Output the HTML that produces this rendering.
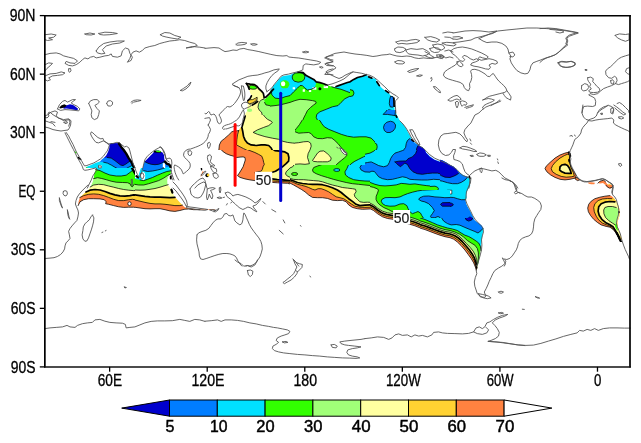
<!DOCTYPE html>
<html><head><meta charset="utf-8"><title>map</title>
<style>
html,body{margin:0;padding:0;background:#fff;overflow:hidden;}
svg{display:block;}
text{font-family:"Liberation Sans",sans-serif;fill:#000;}
.ax{stroke:#000;stroke-width:0.3px;}
.cb{stroke:#000;stroke-width:0.45px;}
.cl{fill:#1a1a1a;stroke:#1a1a1a;stroke-width:0.2px;}
</style></head><body>
<svg width="641" height="443" viewBox="0 0 641 443">
<rect x="0" y="0" width="641" height="443" fill="#fff"/>
<clipPath id="c1"><rect x="350" y="65" width="80" height="55"/></clipPath>
<g clip-path="url(#c1)">
<polygon points="349.4,64.4 430.6,64.4 430.6,120.6 349.4,120.6" fill="#ffffff"/>
<polygon points="349.4,82.5 350.0,81.8 353.7,79.4 357.5,77.5 362.5,76.2 366.2,74.7 368.7,76.9 371.8,78.1 375.6,78.7 376.8,81.8 379.3,85.0 381.8,88.1 384.9,90.6 388.7,93.1 390.6,95.6 393.1,96.8 393.9,101.2 394.3,106.2 394.7,111.2 395.2,114.3 395.6,116.2 397.4,118.7 398.7,121.2 349.4,121.2" fill="#00e1ff"/>
<ellipse cx="350.0" cy="93.1" rx="4.0" ry="3.5" fill="#32ff00" stroke="#000" stroke-width="0.75"/>
<polygon points="390.6,96.2 393.1,96.8 393.7,101.2 393.9,106.2 392.4,107.2 390.2,106.8 389.3,103.7 389.7,99.3" fill="#007dff"/>
<polygon points="383.7,114.3 385.6,112.4 388.7,109.7 392.4,110.6 394.7,111.2 395.2,114.3 393.7,115.5 390.6,114.3 387.4,114.7" fill="#007dff"/>
<polygon points="390.6,96.2 393.1,96.8 393.7,101.2 393.9,106.2 392.4,107.2 390.2,106.8 389.3,103.7 389.7,99.3" fill="none" stroke="#000" stroke-width="0.75" stroke-linejoin="round"/>
<polygon points="383.7,114.3 385.6,112.4 388.7,109.7 392.4,110.6 394.7,111.2 395.2,114.3 393.7,115.5 390.6,114.3 387.4,114.7" fill="none" stroke="#000" stroke-width="0.75" stroke-linejoin="round"/>
<polyline points="350.0,81.8 353.7,79.4 357.5,77.5 362.5,76.2 366.2,74.7" fill="none" stroke="#000000" stroke-width="1.7" stroke-linejoin="round" stroke-linecap="round"/>
<polyline points="368.7,76.9 371.8,78.1" fill="none" stroke="#000000" stroke-width="1.7" stroke-linejoin="round" stroke-linecap="round"/>
<polyline points="376.8,81.8 379.3,85.6" fill="none" stroke="#000000" stroke-width="1.7" stroke-linejoin="round" stroke-linecap="round"/>
<polyline points="385.6,90.6 388.7,92.7" fill="none" stroke="#000000" stroke-width="1.7" stroke-linejoin="round" stroke-linecap="round"/>
<polyline points="393.9,98.1 394.3,106.2" fill="none" stroke="#000000" stroke-width="1.7" stroke-linejoin="round" stroke-linecap="round"/>
<polyline points="395.6,115.5 397.4,118.0" fill="none" stroke="#000000" stroke-width="1.7" stroke-linejoin="round" stroke-linecap="round"/>
</g>
<clipPath id="c2"><rect x="295" y="110" width="80" height="55"/></clipPath>
<g clip-path="url(#c2)">
<polygon points="294.4,109.4 375.6,109.4 375.6,165.6 294.4,165.6" fill="#ffffff"/>
<polygon points="294.4,109.4 376.1,109.4 376.1,166.2 294.4,166.2" fill="#32ff00"/>
<polygon points="325.0,109.4 323.1,110.6 317.5,111.9 315.6,115.0 316.8,118.1 320.0,120.6 321.8,123.7 324.3,126.8 328.7,129.3 334.9,131.8 341.2,134.3 347.4,136.2 353.7,137.2 359.9,136.8 366.1,136.8 371.1,138.1 374.3,141.2 376.1,143.7 376.1,109.4" fill="#00e1ff"/>
<polygon points="376.1,152.4 369.9,154.3 363.6,156.8 358.7,159.3 354.9,161.2 351.2,163.7 349.3,166.2 376.1,166.2" fill="#00e1ff"/>
<polygon points="376.1,161.2 371.1,162.4 367.4,164.3 366.1,166.2 376.1,166.2" fill="#007dff"/>
<polygon points="294.4,131.0 296.2,128.7 299.4,124.7 302.5,119.7 304.7,114.4 306.2,109.4 294.4,109.4" fill="#a0ff78"/>
<polygon points="294.4,131.5 298.7,133.2 303.7,132.8 308.7,132.5 311.2,133.7 313.7,136.8 317.5,138.5 322.5,138.7 327.4,137.7 331.8,138.1 334.9,140.6 338.1,143.7 340.6,146.8 343.0,149.9 346.2,153.1 346.8,155.6 344.3,158.0 341.2,160.5 338.1,163.0 334.9,166.2 294.4,166.2" fill="#a0ff78"/>
<polygon points="294.4,143.1 298.7,142.7 303.7,141.8 308.1,141.5 310.6,143.1 311.2,146.2 310.0,149.9 308.1,153.7 307.5,157.4 308.7,161.2 309.4,163.7 305.0,164.3 300.0,163.9 294.4,164.3" fill="#ffffa0"/>
<polygon points="312.5,160.5 315.0,156.8 317.5,153.1 320.0,151.2 323.7,150.9 326.8,153.1 329.3,155.6 331.2,158.0 330.6,160.5 327.4,161.8 322.5,161.8 317.5,161.8 313.7,161.4" fill="#ffffa0"/>
<polygon points="339.9,148.1 342.4,148.7 344.9,150.6 347.2,153.1 346.8,154.9 344.3,154.3 341.8,151.8" fill="#ffffff"/>
<polygon points="376.1,161.2 371.1,162.4 367.4,164.3 366.1,166.2 376.1,166.2" fill="none" stroke="#000" stroke-width="0.75" stroke-linejoin="round"/>
<polygon points="294.4,143.1 298.7,142.7 303.7,141.8 308.1,141.5 310.6,143.1 311.2,146.2 310.0,149.9 308.1,153.7 307.5,157.4 308.7,161.2 309.4,163.7 305.0,164.3 300.0,163.9 294.4,164.3" fill="none" stroke="#000" stroke-width="0.75" stroke-linejoin="round"/>
<polygon points="312.5,160.5 315.0,156.8 317.5,153.1 320.0,151.2 323.7,150.9 326.8,153.1 329.3,155.6 331.2,158.0 330.6,160.5 327.4,161.8 322.5,161.8 317.5,161.8 313.7,161.4" fill="none" stroke="#000" stroke-width="0.75" stroke-linejoin="round"/>
<polyline points="325.0,109.4 323.1,110.6 317.5,111.9 315.6,115.0 316.8,118.1 320.0,120.6 321.8,123.7 324.3,126.8 328.7,129.3 334.9,131.8 341.2,134.3 347.4,136.2 353.7,137.2 359.9,136.8 366.1,136.8 371.1,138.1 374.3,141.2 376.1,143.7" fill="none" stroke="#000000" stroke-width="0.75" stroke-linejoin="round" stroke-linecap="round"/>
<polyline points="376.1,152.4 369.9,154.3 363.6,156.8 358.7,159.3 354.9,161.2 351.2,163.7 349.3,166.2" fill="none" stroke="#000000" stroke-width="0.75" stroke-linejoin="round" stroke-linecap="round"/>
<polyline points="294.4,131.0 296.2,128.7 299.4,124.7 302.5,119.7 304.7,114.4 306.2,109.4" fill="none" stroke="#000000" stroke-width="0.75" stroke-linejoin="round" stroke-linecap="round"/>
<polyline points="294.4,131.5 298.7,133.2 303.7,132.8 308.7,132.5 311.2,133.7 313.7,136.8 317.5,138.5 322.5,138.7 327.4,137.7 331.8,138.1 334.9,140.6 338.1,143.7 340.6,146.8 343.0,149.9 346.2,153.1 346.8,155.6 344.3,158.0 341.2,160.5 338.1,163.0 334.9,166.2" fill="none" stroke="#000000" stroke-width="0.75" stroke-linejoin="round" stroke-linecap="round"/>
</g>
<clipPath id="c3"><rect x="375" y="110" width="80" height="55"/></clipPath>
<g clip-path="url(#c3)">
<polygon points="374.4,109.4 455.6,109.4 455.6,165.6 374.4,165.6" fill="#ffffff"/>
<polygon points="395.6,109.4 396.2,113.7 398.1,117.5 400.6,121.9 403.7,125.0 406.2,128.7 408.1,132.5 409.9,135.6 411.8,139.3 414.9,143.1 418.7,145.6 422.4,147.4 424.9,149.9 426.8,153.1 429.9,155.6 433.7,158.0 437.4,159.3 441.1,159.9 444.9,161.2 448.6,163.0 452.4,165.5 456.1,166.8 374.4,166.2 374.4,109.4" fill="#00e1ff"/>
<polygon points="383.1,114.4 385.6,111.9 387.5,109.4 395.6,109.4 395.0,115.6 391.2,115.0 387.5,114.4" fill="#007dff"/>
<polygon points="383.5,127.5 384.4,124.4 386.9,122.2 390.6,121.2 393.7,122.2 395.6,125.0 395.2,128.1 393.1,131.0 390.0,132.5 386.9,132.5 384.4,130.6" fill="#007dff"/>
<polygon points="387.5,166.2 389.4,162.4 391.2,158.0 394.3,154.3 398.7,151.8 403.1,150.6 405.6,147.4 406.2,143.7 407.4,140.6 409.9,138.5 411.8,139.3 414.9,143.1 418.7,145.6 422.4,147.4 424.9,149.9 426.8,153.1 429.9,155.6 433.7,158.0 437.4,159.3 441.1,159.9 444.9,161.2 448.6,163.0 452.4,165.5 456.1,166.8 456.1,166.2" fill="#007dff"/>
<polygon points="395.6,166.2 395.0,162.4 397.5,160.5 402.5,159.9 407.4,159.3 411.2,158.0 414.3,155.6 416.2,151.8 416.8,148.1 418.1,145.6 418.7,145.6 422.4,147.4 424.9,149.9 426.8,153.1 429.9,155.6 433.7,158.0 437.4,159.3 441.1,159.9 444.9,161.2 448.6,163.0 452.4,165.5 456.1,166.8 456.1,166.2" fill="#0000cd"/>
<ellipse cx="375.0" cy="146.8" rx="2.2" ry="3.7" fill="#32ff00" stroke="#000" stroke-width="0.75"/>
<polygon points="383.1,114.4 385.6,111.9 387.5,109.4 395.6,109.4 395.0,115.6 391.2,115.0 387.5,114.4" fill="none" stroke="#000" stroke-width="0.75" stroke-linejoin="round"/>
<polygon points="383.5,127.5 384.4,124.4 386.9,122.2 390.6,121.2 393.7,122.2 395.6,125.0 395.2,128.1 393.1,131.0 390.0,132.5 386.9,132.5 384.4,130.6" fill="none" stroke="#000" stroke-width="0.75" stroke-linejoin="round"/>
<polyline points="387.5,166.2 389.4,162.4 391.2,158.0 394.3,154.3 398.7,151.8 403.1,150.6 405.6,147.4 406.2,143.7 407.4,140.6 409.9,138.5" fill="none" stroke="#000000" stroke-width="0.75" stroke-linejoin="round" stroke-linecap="round"/>
<polyline points="395.6,166.2 395.0,162.4 397.5,160.5 402.5,159.9 407.4,159.3 411.2,158.0 414.3,155.6 416.2,151.8 416.8,148.1 418.1,145.6" fill="none" stroke="#000000" stroke-width="0.75" stroke-linejoin="round" stroke-linecap="round"/>
<polyline points="396.0,115.6 396.8,117.2" fill="none" stroke="#000000" stroke-width="1.7" stroke-linejoin="round" stroke-linecap="round"/>
<polyline points="411.6,139.7 413.4,141.2" fill="none" stroke="#000000" stroke-width="1.7" stroke-linejoin="round" stroke-linecap="round"/>
</g>
<clipPath id="c4"><rect x="60" y="175" width="80" height="55"/></clipPath>
<g clip-path="url(#c4)">
<polygon points="59.4,174.4 140.6,174.4 140.6,230.6 59.4,230.6" fill="#ffffff"/>
<polygon points="59.4,174.4 141.1,174.4 141.1,231.2 59.4,231.2" fill="#ff8240"/>
<polygon points="59.4,196.5 80.0,196.5 83.7,195.2 87.5,194.3 92.4,194.3 97.4,194.7 102.4,195.6 107.4,197.5 112.4,199.3 117.4,200.3 122.4,200.8 127.4,200.0 131.1,199.0 134.9,199.7 141.1,201.0 141.1,174.4 59.4,174.4" fill="#ffd232"/>
<polygon points="59.4,192.1 83.1,192.1 86.8,190.6 91.2,189.7 96.2,189.6 101.2,190.2 106.2,192.2 111.2,194.3 116.2,195.6 121.2,196.2 126.1,195.6 129.9,194.7 134.9,194.3 141.1,194.7 141.1,174.4 59.4,174.4" fill="#ffffa0"/>
<polygon points="59.4,186.0 87.7,186.0 92.4,184.0 97.4,183.5 102.4,184.4 107.4,186.9 112.4,189.4 117.4,191.0 122.4,191.8 127.4,191.8 132.4,191.2 141.1,191.0 141.1,174.4 59.4,174.4" fill="#a0ff78"/>
<polygon points="59.4,178.0 92.2,178.0 97.4,177.7 102.4,178.7 107.4,180.6 112.4,182.5 117.4,184.0 122.4,185.6 127.4,186.9 129.9,187.5 132.4,186.9 134.9,186.2 141.1,186.9 141.1,174.4 59.4,174.4" fill="#32ff00"/>
<polygon points="93.7,174.4 92.7,177.5 91.2,180.6 89.3,183.7 86.8,186.9 84.3,189.4 82.5,191.8 80.6,194.3 79.3,197.5 78.5,200.6 78.1,204.3 78.7,206.2 80.0,203.7 82.5,201.2 86.2,199.7 91.2,199.0 97.4,198.7 101.8,198.7 103.9,199.3 105.9,201.2 105.2,203.5 106.8,204.7 111.2,205.3 116.2,206.5 121.2,207.2 126.1,207.0 131.1,206.5 136.1,207.2 141.1,207.8 141.1,231.2 59.4,231.2 59.4,174.4" fill="#ffffff"/>
<ellipse cx="129.3" cy="203.5" rx="1.7" ry="2.0" fill="#ffffff" stroke="#000" stroke-width="0.75"/>
<polyline points="78.7,206.2 80.0,203.7 82.5,201.2 86.2,199.7 91.2,199.0 97.4,198.7 101.8,198.7 103.9,199.3 105.9,201.2 105.2,203.5 106.8,204.7 111.2,205.3 116.2,206.5 121.2,207.2 126.1,207.0 131.1,206.5 136.1,207.2 141.1,207.8" fill="none" stroke="#000000" stroke-width="0.75" stroke-linejoin="round" stroke-linecap="round"/>
<polyline points="80.0,196.5 83.7,195.2 87.5,194.3 92.4,194.3 97.4,194.7 102.4,195.6 107.4,197.5 112.4,199.3 117.4,200.3 122.4,200.8 127.4,200.0 131.1,199.0 134.9,199.7 141.1,201.0" fill="none" stroke="#000000" stroke-width="0.75" stroke-linejoin="round" stroke-linecap="round"/>
<polyline points="83.1,192.1 86.8,190.6 91.2,189.7 96.2,189.6 101.2,190.2 106.2,192.2 111.2,194.3 116.2,195.6 121.2,196.2 126.1,195.6 129.9,194.7 134.9,194.3 141.1,194.7" fill="none" stroke="#000000" stroke-width="1.7" stroke-linejoin="round" stroke-linecap="round"/>
<polyline points="87.7,186.0 92.4,184.0 97.4,183.5 102.4,184.4 107.4,186.9 112.4,189.4 117.4,191.0 122.4,191.8 127.4,191.8 132.4,191.2 141.1,191.0" fill="none" stroke="#000000" stroke-width="0.75" stroke-linejoin="round" stroke-linecap="round"/>
<polyline points="92.2,178.0 97.4,177.7 102.4,178.7 107.4,180.6 112.4,182.5 117.4,184.0 122.4,185.6 127.4,186.9 129.9,187.5 132.4,186.9 134.9,186.2 141.1,186.9" fill="none" stroke="#000000" stroke-width="0.75" stroke-linejoin="round" stroke-linecap="round"/>
</g>
<clipPath id="c5"><rect x="130" y="175" width="80" height="55"/></clipPath>
<g clip-path="url(#c5)">
<polygon points="129.4,174.4 210.6,174.4 210.6,230.6 129.4,230.6" fill="#ffffff"/>
<polygon points="129.4,174.4 211.1,174.4 211.1,231.2 129.4,231.2" fill="#ff8240"/>
<polygon points="129.4,197.5 133.7,199.3 138.7,201.0 143.7,202.2 148.7,203.1 153.7,203.5 158.7,203.5 163.7,204.0 168.7,204.7 173.7,205.2 178.7,205.6 182.4,205.2 183.9,204.7 211.1,204.7 211.1,174.4 129.4,174.4" fill="#ffd232"/>
<polygon points="129.4,194.3 133.7,194.7 138.7,195.6 143.7,196.5 148.7,197.0 153.7,197.0 158.7,197.2 163.7,197.7 168.7,198.1 173.7,197.8 175.2,197.5 211.1,197.5 211.1,174.4 129.4,174.4" fill="#ffffa0"/>
<polygon points="129.4,191.0 133.7,190.6 138.7,190.2 143.7,190.0 148.7,189.4 153.7,188.5 158.7,187.5 163.7,186.5 168.1,185.6 211.1,185.6 211.1,174.4 129.4,174.4" fill="#a0ff78"/>
<polygon points="129.4,187.5 132.5,186.9 137.5,186.0 142.5,185.6 147.5,185.0 152.5,184.0 157.5,182.2 162.4,180.0 166.2,177.5 168.1,175.6 168.7,174.4 129.4,174.4" fill="#32ff00"/>
<polygon points="167.4,174.4 167.4,180.0 168.7,183.7 170.6,187.5 172.4,191.2 174.3,195.0 176.8,198.1 179.9,201.2 183.0,204.3 185.5,206.8 188.7,207.6 192.4,207.9 200.5,207.7 211.1,207.7 211.1,174.4" fill="#ffffff"/>
<polygon points="129.4,204.3 133.7,206.2 138.7,207.7 143.7,208.7 148.7,208.9 153.7,208.7 158.7,208.4 163.7,209.3 168.7,210.6 173.7,211.4 178.7,211.2 182.4,209.9 186.2,209.1 191.2,209.4 196.1,209.1 200.5,208.4 211.1,208.4 211.1,231.2 129.4,231.2" fill="#ffffff"/>
<ellipse cx="130.0" cy="202.7" rx="1.2" ry="2.0" fill="#ffffff" stroke="#000" stroke-width="0.75"/>
<polyline points="129.4,204.3 133.7,206.2 138.7,207.7 143.7,208.7 148.7,208.9 153.7,208.7 158.7,208.4 163.7,209.3 168.7,210.6 173.7,211.4 178.7,211.2 182.4,209.9 186.2,209.1 191.2,209.4 196.1,209.1 200.5,208.4" fill="none" stroke="#000000" stroke-width="0.75" stroke-linejoin="round" stroke-linecap="round"/>
<polyline points="129.4,197.5 133.7,199.3 138.7,201.0 143.7,202.2 148.7,203.1 153.7,203.5 158.7,203.5 163.7,204.0 168.7,204.7 173.7,205.2 178.7,205.6 182.4,205.2 183.9,204.7" fill="none" stroke="#000000" stroke-width="0.75" stroke-linejoin="round" stroke-linecap="round"/>
<polyline points="129.4,194.3 133.7,194.7 138.7,195.6 143.7,196.5 148.7,197.0 153.7,197.0 158.7,197.2 163.7,197.7 168.7,198.1 173.7,197.8 175.2,197.5" fill="none" stroke="#000000" stroke-width="1.7" stroke-linejoin="round" stroke-linecap="round"/>
<polyline points="129.4,191.0 133.7,190.6 138.7,190.2 143.7,190.0 148.7,189.4 153.7,188.5 158.7,187.5 163.7,186.5 168.1,185.6" fill="none" stroke="#000000" stroke-width="0.75" stroke-linejoin="round" stroke-linecap="round"/>
<polyline points="129.4,187.5 132.5,186.9 137.5,186.0 142.5,185.6 147.5,185.0 152.5,184.0 157.5,182.2 162.4,180.0 166.2,177.5 168.1,175.6 168.7,174.4" fill="none" stroke="#000000" stroke-width="0.75" stroke-linejoin="round" stroke-linecap="round"/>
<polyline points="170.2,189.0 171.8,193.1" fill="none" stroke="#000000" stroke-width="2.2" stroke-linejoin="round" stroke-linecap="round"/>
</g>
<clipPath id="c6"><rect x="540" y="140" width="80" height="55"/></clipPath>
<g clip-path="url(#c6)">
<polygon points="568.7,152.2 565.0,153.1 560.0,155.0 555.0,158.1 550.0,162.5 546.2,166.2 545.0,168.7 546.9,171.8 550.6,174.9 555.0,177.4 560.0,179.3 565.0,179.9 570.0,179.3 574.9,178.1 577.4,177.2 579.9,179.9 577.4,180.6 574.9,178.7 576.2,175.6 573.7,171.2 571.2,167.5 570.0,163.7 569.3,160.0 570.0,156.2 570.0,153.1" fill="#ff8240"/>
<polygon points="568.1,154.0 564.3,155.6 560.0,158.1 555.6,161.8 552.5,165.6 551.2,168.7 552.5,171.8 556.2,174.3 561.2,176.4 566.2,177.2 571.2,176.8 574.3,176.2 573.4,172.7 571.2,168.1 570.0,163.7 569.3,159.3 569.7,155.6" fill="#ffd232"/>
<polygon points="560.0,166.8 561.8,165.0 565.0,164.3 567.5,165.6 569.3,168.1 570.6,171.2 571.2,173.4 568.7,173.4 565.0,173.1 561.8,171.8 559.7,170.0" fill="#ffffa0"/>
<polygon points="588.0,182.4 591.2,182.2 594.9,182.7 594.3,184.3 591.2,184.3 588.7,183.7" fill="#ff8240"/>
<polygon points="598.0,183.1 599.9,181.2 603.7,180.2 605.5,181.8 607.4,184.3 609.9,185.6 611.8,187.4 610.5,188.7 608.0,187.2 605.5,184.9 603.0,183.1 599.9,183.4" fill="#ff8240"/>
<polygon points="608.0,183.7 610.5,183.9 610.9,185.2 608.6,184.9" fill="#ffd232"/>
<polygon points="568.7,152.2 565.0,153.1 560.0,155.0 555.0,158.1 550.0,162.5 546.2,166.2 545.0,168.7 546.9,171.8 550.6,174.9 555.0,177.4 560.0,179.3 565.0,179.9 570.0,179.3 574.9,178.1 577.4,177.2 579.9,179.9 577.4,180.6 574.9,178.7 576.2,175.6 573.7,171.2 571.2,167.5 570.0,163.7 569.3,160.0 570.0,156.2 570.0,153.1" fill="none" stroke="#000" stroke-width="0.75" stroke-linejoin="round"/>
<polygon points="568.1,154.0 564.3,155.6 560.0,158.1 555.6,161.8 552.5,165.6 551.2,168.7 552.5,171.8 556.2,174.3 561.2,176.4 566.2,177.2 571.2,176.8 574.3,176.2 573.4,172.7 571.2,168.1 570.0,163.7 569.3,159.3 569.7,155.6" fill="none" stroke="#000" stroke-width="0.75" stroke-linejoin="round"/>
<polygon points="560.0,166.8 561.8,165.0 565.0,164.3 567.5,165.6 569.3,168.1 570.6,171.2 571.2,173.4 568.7,173.4 565.0,173.1 561.8,171.8 559.7,170.0" fill="none" stroke="#000" stroke-width="1.7" stroke-linejoin="round"/>
<polyline points="569.0,152.5 570.2,156.0" fill="none" stroke="#000000" stroke-width="2.2" stroke-linejoin="round" stroke-linecap="round"/>
<polyline points="569.0,160.0 569.3,161.5" fill="none" stroke="#000000" stroke-width="1.8" stroke-linejoin="round" stroke-linecap="round"/>
<polyline points="598.0,183.1 599.9,181.2 603.7,180.2 605.5,181.8" fill="none" stroke="#000000" stroke-width="0.75" stroke-linejoin="round" stroke-linecap="round"/>
</g>
<clipPath id="c7"><rect x="555" y="185" width="73.79999999999995" height="57"/></clipPath>
<g clip-path="url(#c7)">
<polygon points="609.9,195.6 604.9,196.2 599.9,197.2 594.9,198.7 591.2,201.2 588.7,204.3 587.7,208.1 588.4,211.8 590.6,215.6 593.7,219.3 597.4,222.4 601.2,224.9 606.2,226.4 609.9,227.2 613.0,229.3 615.5,232.4 618.0,236.2 619.9,240.0 621.8,240.0 620.9,236.2 619.3,231.8 618.0,227.4 617.4,223.7 618.0,219.9 619.3,216.2 619.6,212.5 619.3,208.7 618.0,205.0 616.2,201.2 613.7,198.1 611.8,196.2" fill="#ff8240"/>
<polygon points="611.8,198.7 607.4,198.5 602.4,199.0 598.1,200.6 594.9,203.7 593.7,207.5 594.3,211.8 596.2,216.2 598.7,219.9 602.4,223.1 607.4,225.2 611.2,226.8 614.3,229.9 616.8,233.7 618.9,237.4 620.5,240.0 621.8,240.0 620.9,236.2 619.3,231.8 618.0,227.4 617.4,223.7 618.0,219.9 619.3,216.2 619.6,212.5 619.3,208.7 618.0,205.0 616.2,201.2 613.7,198.1" fill="#ffd232"/>
<polygon points="614.9,201.8 609.9,201.5 604.9,202.2 601.2,203.7 598.7,206.8 598.1,211.2 599.3,215.6 601.8,219.3 605.5,222.4 609.9,224.7 613.0,226.8 615.5,230.6 617.4,234.3 619.3,238.0 620.9,236.2 619.3,231.8 618.0,227.4 617.4,223.7 618.0,219.9 619.3,216.2 619.6,212.5 619.3,208.7 618.0,205.0 616.2,201.2" fill="#ffffa0"/>
<polygon points="616.2,207.5 612.4,206.5 608.0,206.5 604.9,207.5 603.7,210.0 603.9,213.7 605.5,217.4 608.7,220.6 612.4,223.1 614.9,224.7 616.2,222.4 617.2,218.7 618.0,215.6 618.7,211.8 618.0,208.7" fill="#a0ff78"/>
<polygon points="614.7,224.9 616.2,223.1 617.2,224.9 617.4,228.1 618.0,230.6 616.8,229.9 615.5,227.4" fill="#32ff00"/>
<ellipse cx="618.9" cy="212.2" rx="0.9" ry="1.1" fill="#000000"/>
<polygon points="605.5,184.4 606.8,186.5 609.3,188.1 611.8,187.5 613.0,185.6 613.0,184.4" fill="#ff8240"/>
<polyline points="609.9,195.6 604.9,196.2 599.9,197.2 594.9,198.7 591.2,201.2 588.7,204.3 587.7,208.1 588.4,211.8 590.6,215.6 593.7,219.3 597.4,222.4 601.2,224.9 606.2,226.4 609.9,227.2 613.0,229.3 615.5,232.4 618.0,236.2 619.9,240.0" fill="none" stroke="#000000" stroke-width="0.75" stroke-linejoin="round" stroke-linecap="round"/>
<polyline points="611.8,198.7 607.4,198.5 602.4,199.0 598.1,200.6 594.9,203.7 593.7,207.5 594.3,211.8 596.2,216.2 598.7,219.9 602.4,223.1 607.4,225.2 611.2,226.8 614.3,229.9 616.8,233.7 618.9,237.4 620.5,240.0" fill="none" stroke="#000000" stroke-width="0.75" stroke-linejoin="round" stroke-linecap="round"/>
<polyline points="614.9,201.8 609.9,201.5 604.9,202.2 601.2,203.7 598.7,206.8 598.1,211.2 599.3,215.6 601.8,219.3 605.5,222.4 609.9,224.7 613.0,226.8 615.5,230.6 617.4,234.3 619.3,238.0" fill="none" stroke="#000000" stroke-width="1.7" stroke-linejoin="round" stroke-linecap="round"/>
<polyline points="616.2,207.5 612.4,206.5 608.0,206.5 604.9,207.5 603.7,210.0 603.9,213.7 605.5,217.4 608.7,220.6 612.4,223.1 614.9,224.7" fill="none" stroke="#000000" stroke-width="0.75" stroke-linejoin="round" stroke-linecap="round"/>
<polyline points="616.8,233.0 618.7,236.8 620.1,240.0 621.1,241.8" fill="none" stroke="#000000" stroke-width="2.2" stroke-linejoin="round" stroke-linecap="round"/>
<polygon points="605.5,184.4 606.8,186.5 609.3,188.1 611.8,187.5 613.0,185.6 613.0,184.4" fill="none" stroke="#000" stroke-width="0.75" stroke-linejoin="round"/>
</g>
<clipPath id="c8"><rect x="40" y="80" width="80" height="55"/></clipPath>
<g clip-path="url(#c8)">
<polygon points="63.1,107.5 66.2,105.6 70.0,104.3 73.1,105.0 75.6,106.8 78.1,108.7 77.4,110.2 73.7,109.7 70.0,109.0 66.2,108.5 63.7,108.7" fill="#0000cd"/>
<polygon points="59.3,107.5 61.2,105.6 64.3,104.3 66.8,105.6 65.0,107.2 62.5,108.1 60.0,108.5" fill="#000000"/>
</g>
<clipPath id="c9"><rect x="365" y="150" width="80" height="55"/></clipPath>
<g clip-path="url(#c9)">
<polygon points="364.4,149.4 445.6,149.4 445.6,205.6 364.4,205.6" fill="#ffffff"/>
<polygon points="364.4,149.4 446.1,149.4 446.1,206.2 364.4,206.2" fill="#00e1ff"/>
<polygon points="364.4,149.4 375.6,149.4 373.7,151.2 370.0,153.1 364.4,154.4" fill="#32ff00"/>
<polygon points="364.4,163.1 367.5,162.5 371.2,161.9 375.0,163.7 378.7,165.6 383.7,166.8 387.5,165.6 389.3,162.5 390.6,158.7 392.5,155.6 395.0,153.1 398.7,151.9 402.4,150.6 404.9,149.4 446.1,149.4 446.1,180.0 439.9,179.7 433.6,179.3 427.4,180.0 421.2,180.0 414.9,179.7 409.9,179.3 406.2,177.5 402.4,176.8 397.4,178.1 392.5,179.3 387.5,179.7 382.5,178.7 378.7,176.8 376.2,173.7 374.4,171.5 371.9,171.2 368.7,172.5 365.0,172.7 364.4,172.7" fill="#007dff"/>
<polygon points="395.0,161.9 398.7,161.2 402.4,161.0 406.2,161.0 408.1,158.7 412.4,156.9 415.5,153.7 416.8,150.6 417.4,149.4 424.9,149.4 426.2,153.1 429.9,156.9 434.9,160.0 439.9,161.9 446.1,162.5 446.1,175.0 442.4,174.3 437.4,173.1 432.4,173.1 427.4,173.5 422.4,174.3 417.4,173.7 413.0,171.8 409.9,168.7 407.4,164.4 404.9,163.1 402.4,165.0 400.6,166.8 398.1,165.0 396.2,163.1" fill="#0000cd"/>
<polygon points="424.9,149.4 426.2,152.5 429.9,156.2 434.3,159.4 439.9,161.5 446.1,162.2 446.1,149.4" fill="#ffffff"/>
<polygon points="364.4,180.6 370.0,182.4 375.0,184.3 380.0,185.6 385.0,185.9 390.0,185.6 396.2,184.9 401.2,183.4 404.9,183.7 409.9,184.3 414.9,183.9 419.9,184.7 426.2,185.6 432.4,186.2 436.8,187.2 438.0,189.3 436.1,190.9 431.1,191.2 424.9,191.4 418.7,191.8 413.7,193.1 408.7,194.9 402.4,196.8 396.2,198.0 390.0,197.7 385.0,198.0 382.5,199.9 381.8,203.0 381.2,206.2 364.4,206.2" fill="#32ff00"/>
<polygon points="364.4,185.6 368.7,186.2 373.7,187.4 377.5,188.9 379.7,191.8 379.4,194.9 377.5,198.0 376.2,201.2 376.9,204.3 377.5,206.2 364.4,206.2" fill="#a0ff78"/>
<polygon points="364.4,201.8 368.7,202.2 372.5,203.4 374.4,206.2 364.4,206.2" fill="#ffffa0"/>
<polygon points="418.7,199.3 422.4,197.4 427.4,196.4 433.6,196.8 439.9,197.2 446.1,197.4 446.1,206.2 429.9,206.2 427.4,203.7 423.7,201.8 420.5,200.9" fill="#007dff"/>
<polygon points="399.3,206.2 401.2,203.9 403.7,203.9 405.6,206.2" fill="#32ff00"/>
<polygon points="364.4,149.4 375.6,149.4 373.7,151.2 370.0,153.1 364.4,154.4" fill="none" stroke="#000" stroke-width="0.75" stroke-linejoin="round"/>
<polygon points="364.4,201.8 368.7,202.2 372.5,203.4 374.4,206.2 364.4,206.2" fill="none" stroke="#000" stroke-width="1.7" stroke-linejoin="round"/>
<polygon points="418.7,199.3 422.4,197.4 427.4,196.4 433.6,196.8 439.9,197.2 446.1,197.4 446.1,206.2 429.9,206.2 427.4,203.7 423.7,201.8 420.5,200.9" fill="none" stroke="#000" stroke-width="0.75" stroke-linejoin="round"/>
<polygon points="399.3,206.2 401.2,203.9 403.7,203.9 405.6,206.2" fill="none" stroke="#000" stroke-width="0.75" stroke-linejoin="round"/>
<polyline points="364.4,163.1 367.5,162.5 371.2,161.9 375.0,163.7 378.7,165.6 383.7,166.8 387.5,165.6 389.3,162.5 390.6,158.7 392.5,155.6 395.0,153.1 398.7,151.9 402.4,150.6 404.9,149.4" fill="none" stroke="#000000" stroke-width="0.75" stroke-linejoin="round" stroke-linecap="round"/>
<polyline points="446.1,180.0 439.9,179.7 433.6,179.3 427.4,180.0 421.2,180.0 414.9,179.7 409.9,179.3 406.2,177.5 402.4,176.8 397.4,178.1 392.5,179.3 387.5,179.7 382.5,178.7 378.7,176.8 376.2,173.7 374.4,171.5 371.9,171.2 368.7,172.5 365.0,172.7 364.4,172.7" fill="none" stroke="#000000" stroke-width="0.75" stroke-linejoin="round" stroke-linecap="round"/>
<polyline points="395.0,161.9 398.7,161.2 402.4,161.0 406.2,161.0 408.1,158.7 412.4,156.9 415.5,153.7 416.8,150.6 417.4,149.4" fill="none" stroke="#000000" stroke-width="0.75" stroke-linejoin="round" stroke-linecap="round"/>
<polyline points="446.1,162.5 446.1,175.0 442.4,174.3 437.4,173.1 432.4,173.1 427.4,173.5 422.4,174.3 417.4,173.7 413.0,171.8 409.9,168.7 407.4,164.4 404.9,163.1 402.4,165.0 400.6,166.8 398.1,165.0 396.2,163.1 395.0,161.9" fill="none" stroke="#000000" stroke-width="0.75" stroke-linejoin="round" stroke-linecap="round"/>
<polyline points="364.4,180.6 370.0,182.4 375.0,184.3 380.0,185.6 385.0,185.9 390.0,185.6 396.2,184.9 401.2,183.4 404.9,183.7 409.9,184.3 414.9,183.9 419.9,184.7 426.2,185.6 432.4,186.2 436.8,187.2 438.0,189.3 436.1,190.9 431.1,191.2 424.9,191.4 418.7,191.8 413.7,193.1 408.7,194.9 402.4,196.8 396.2,198.0 390.0,197.7 385.0,198.0 382.5,199.9 381.8,203.0 381.2,206.2" fill="none" stroke="#000000" stroke-width="0.75" stroke-linejoin="round" stroke-linecap="round"/>
<polyline points="364.4,185.6 368.7,186.2 373.7,187.4 377.5,188.9 379.7,191.8 379.4,194.9 377.5,198.0 376.2,201.2 376.9,204.3 377.5,206.2" fill="none" stroke="#000000" stroke-width="0.75" stroke-linejoin="round" stroke-linecap="round"/>
</g>
<clipPath id="c10"><rect x="440" y="150" width="80" height="55"/></clipPath>
<g clip-path="url(#c10)">
<polygon points="439.4,149.4 520.6,149.4 520.6,205.6 439.4,205.6" fill="#ffffff"/>
<polygon points="439.4,159.4 442.5,160.6 446.2,162.5 450.0,165.0 453.7,166.8 456.8,170.0 460.0,173.1 463.7,175.6 467.5,176.8 470.0,178.1 470.3,181.8 469.7,185.6 468.1,188.7 466.5,192.4 466.0,196.2 466.5,199.9 465.6,203.7 465.0,206.2 439.4,206.2" fill="#00e1ff"/>
<polygon points="439.4,159.4 442.5,160.6 446.2,162.5 450.0,165.0 453.7,166.8 456.8,170.0 460.0,173.1 463.7,175.6 467.5,176.8 467.5,177.2 465.0,180.0 461.2,182.4 457.5,183.7 452.5,183.7 447.5,182.7 442.5,181.2 439.4,180.6" fill="#007dff"/>
<polygon points="439.4,159.4 442.5,160.6 446.2,162.5 450.0,165.0 453.7,166.8 456.8,170.0 458.7,173.1 457.5,174.3 453.7,176.2 450.0,177.5 445.0,177.2 441.2,175.6 439.4,174.3" fill="#0000cd"/>
<polygon points="439.4,197.4 443.7,196.8 448.7,196.8 453.7,198.0 458.7,199.3 463.7,199.9 466.5,199.7 465.6,203.7 465.0,206.2 439.4,206.2" fill="#007dff"/>
<ellipse cx="445.0" cy="205.8" rx="6.2" ry="1.9" fill="#0000cd" stroke="#000" stroke-width="0.75"/>
<polygon points="447.2,190.2 451.9,190.2 451.9,193.9 447.2,193.9" fill="#ffffff"/>
<polygon points="447.2,190.2 451.9,190.2 451.9,193.9 447.2,193.9" fill="none" stroke="#000" stroke-width="0.6" stroke-linejoin="round"/>
<polyline points="467.5,177.2 465.0,180.0 461.2,182.4 457.5,183.7 452.5,183.7 447.5,182.7 442.5,181.2 439.4,180.6" fill="none" stroke="#000000" stroke-width="0.75" stroke-linejoin="round" stroke-linecap="round"/>
<polyline points="458.7,173.1 457.5,174.3 453.7,176.2 450.0,177.5 445.0,177.2 441.2,175.6 439.4,174.3" fill="none" stroke="#000000" stroke-width="0.75" stroke-linejoin="round" stroke-linecap="round"/>
<polyline points="439.4,197.4 443.7,196.8 448.7,196.8 453.7,198.0 458.7,199.3 463.7,199.9 466.5,199.7" fill="none" stroke="#000000" stroke-width="0.75" stroke-linejoin="round" stroke-linecap="round"/>
<polyline points="469.3,176.5 470.0,178.5" fill="none" stroke="#000000" stroke-width="1.7" stroke-linejoin="round" stroke-linecap="round"/>
</g>
<clipPath id="c11"><rect x="75" y="135" width="80" height="55"/></clipPath>
<g clip-path="url(#c11)">
<polygon points="74.4,134.4 155.6,134.4 155.6,190.6 74.4,190.6" fill="#ffffff"/>
<polygon points="74.4,134.4 156.1,134.4 156.1,191.2 74.4,191.2" fill="#ffffa0"/>
<polygon points="88.7,187.7 93.7,185.2 98.7,184.0 103.7,184.3 108.7,185.5 113.7,186.8 118.7,188.0 123.7,189.3 127.4,190.0 131.2,191.2 156.1,191.2 156.1,134.4 74.4,134.4 74.4,187.7" fill="#a0ff78"/>
<polygon points="92.5,178.3 97.5,177.4 101.8,178.1 106.2,179.3 111.2,180.9 116.2,181.8 122.4,182.2 128.7,182.7 133.7,183.7 139.9,183.4 144.9,182.7 149.9,181.8 156.1,180.2 156.1,134.4 74.4,134.4 74.4,178.3" fill="#32ff00"/>
<polygon points="85.0,169.4 96.5,169.7 100.0,169.9 103.7,171.2 107.4,173.1 111.2,174.7 116.2,175.6 121.2,175.6 126.2,175.2 129.9,172.4 132.4,169.9 134.7,169.3 137.4,169.3 156.1,169.3 156.1,134.4 74.4,134.4 74.4,169.4" fill="#00e1ff"/>
<polygon points="99.3,161.8 103.7,162.2 107.4,163.1 111.2,165.0 114.9,167.2 118.7,169.3 121.8,170.2 124.9,169.3 128.7,167.2 131.8,165.6 134.9,165.6 156.1,165.6 156.1,134.4 74.4,134.4 74.4,161.8" fill="#007dff"/>
<polygon points="103.1,157.8 107.4,157.5 111.2,158.1 114.9,160.6 118.1,163.1 120.6,165.0 123.0,165.6 125.5,164.3 128.0,162.5 129.9,161.2 132.4,161.5 156.1,161.5 156.1,134.4 74.4,134.4 74.4,157.8" fill="#0000cd"/>
<polygon points="74.4,191.2 88.1,190.0 90.6,186.8 92.5,183.0 93.7,178.7 94.3,174.9 95.6,171.2 96.5,169.3 93.7,168.3 90.0,168.9 86.9,168.7 85.6,167.2 88.7,166.0 91.2,165.0 93.7,163.7 96.8,162.5 100.0,161.6 101.5,159.7 104.0,157.8 106.2,155.6 108.1,151.8 109.3,148.1 109.3,144.4 111.2,142.9 114.9,142.9 118.7,143.2 121.2,146.9 123.7,150.0 126.2,153.7 128.7,158.1 131.2,161.8 133.0,165.6 134.9,169.3 136.8,173.7 138.4,177.2 139.9,178.7 141.1,176.8 141.8,172.4 142.4,167.4 143.0,163.1 144.9,160.6 147.4,158.7 149.9,156.2 152.4,153.7 156.1,150.6 156.1,134.4 74.4,134.4" fill="#ffffff"/>
<polygon points="98.7,165.3 101.8,165.3 101.8,168.4 98.7,168.4" fill="#ffffff"/>
<polyline points="107.4,157.5 111.2,158.1 114.9,160.6 118.1,163.1 120.6,165.0 123.0,165.6 125.5,164.3 128.0,162.5 129.9,161.2" fill="none" stroke="#000000" stroke-width="0.75" stroke-linejoin="round" stroke-linecap="round"/>
<polyline points="103.7,162.2 107.4,163.1 111.2,165.0 114.9,167.2 118.7,169.3 121.8,170.2 124.9,169.3 128.7,167.2 131.8,165.6" fill="none" stroke="#000000" stroke-width="0.75" stroke-linejoin="round" stroke-linecap="round"/>
<polyline points="100.0,169.9 103.7,171.2 107.4,173.1 111.2,174.7 116.2,175.6 121.2,175.6 126.2,175.2 129.9,172.4 132.4,169.9" fill="none" stroke="#000000" stroke-width="0.75" stroke-linejoin="round" stroke-linecap="round"/>
<polyline points="97.5,177.4 101.8,178.1 106.2,179.3 111.2,180.9 116.2,181.8 122.4,182.2 128.7,182.7 133.7,183.7 139.9,183.4 144.9,182.7 149.9,181.8 156.1,180.2" fill="none" stroke="#000000" stroke-width="0.75" stroke-linejoin="round" stroke-linecap="round"/>
<polyline points="93.7,185.2 98.7,184.0 103.7,184.3 108.7,185.5 113.7,186.8 118.7,188.0 123.7,189.3 127.4,190.0 131.2,191.2" fill="none" stroke="#000000" stroke-width="0.75" stroke-linejoin="round" stroke-linecap="round"/>
<polyline points="91.2,189.4 95.6,188.9 100.0,189.4" fill="none" stroke="#000000" stroke-width="1.7" stroke-linejoin="round" stroke-linecap="round"/>
<polyline points="118.9,143.5 121.2,146.9 123.7,150.0 126.2,153.7 128.7,158.1 131.2,161.8 133.0,165.6 134.9,169.3 136.8,173.7 138.0,176.8" fill="none" stroke="#000000" stroke-width="2.4" stroke-linejoin="round" stroke-linecap="round"/>
<polyline points="78.1,157.5 80.6,159.3" fill="none" stroke="#000000" stroke-width="1.6" stroke-linejoin="round" stroke-linecap="round"/>
<polyline points="75.4,152.2 76.0,152.8" fill="none" stroke="#32ff00" stroke-width="1.5" stroke-linejoin="round" stroke-linecap="round"/>
<polyline points="86.5,167.8 87.5,168.2" fill="none" stroke="#32ff00" stroke-width="1.2" stroke-linejoin="round" stroke-linecap="round"/>
</g>
<clipPath id="c12"><rect x="140" y="135" width="80" height="55"/></clipPath>
<g clip-path="url(#c12)">
<polygon points="139.4,134.4 220.6,134.4 220.6,190.6 139.4,190.6" fill="#ffffff"/>
<polygon points="139.4,134.4 221.1,134.4 221.1,191.2 139.4,191.2" fill="#ffffa0"/>
<polygon points="150.0,191.2 152.5,190.0 157.5,188.7 162.5,187.2 166.2,185.5 168.1,184.9 172.4,184.3 172.4,134.4 139.4,134.4 139.4,191.2" fill="#a0ff78"/>
<polygon points="139.4,184.9 143.7,184.7 148.7,183.9 153.7,182.4 158.7,180.6 163.7,178.1 167.5,175.6 170.0,173.9 172.4,173.1 172.4,134.4 139.4,134.4" fill="#32ff00"/>
<polygon points="139.4,180.2 140.6,179.9 143.7,180.6 147.5,178.7 152.5,176.8 157.5,174.7 162.5,172.4 166.8,171.2 170.0,170.9 172.4,170.7 172.4,134.4 139.4,134.4" fill="#00e1ff"/>
<polygon points="141.2,170.3 143.7,170.6 147.5,171.2 152.5,170.6 157.5,169.7 161.2,168.7 163.5,167.7 172.4,166.2 172.4,134.4 139.4,134.4 139.4,170.3" fill="#007dff"/>
<polygon points="142.5,161.5 145.0,161.8 147.5,163.1 151.2,164.3 155.0,164.7 158.7,164.3 161.8,163.1 163.7,161.8 166.2,161.5 166.2,134.4 139.4,134.4 139.4,161.5" fill="#0000cd"/>
<polygon points="139.4,134.4 221.1,134.4 221.1,191.2 168.1,191.2 167.7,187.4 168.1,183.7 169.3,180.6 170.6,177.4 170.0,173.7 170.6,170.6 170.6,166.8 169.3,164.7 166.8,163.7 165.0,161.8 164.3,158.7 164.0,155.0 162.5,152.5 158.7,150.6 154.4,151.0 153.1,153.1 150.6,155.6 147.5,158.7 144.4,161.8 143.1,166.2 142.5,171.2 141.9,174.9 139.4,178.7" fill="#ffffff"/>
<polygon points="162.8,163.1 165.2,163.1 165.2,168.4 162.8,168.4" fill="#ffffff"/>
<ellipse cx="143.1" cy="176.2" rx="1.6" ry="3.5" fill="#ffffff"/>
<ellipse cx="207.1" cy="175.6" rx="1.9" ry="1.9" fill="#000000"/>
<polygon points="206.8,174.7 208.6,173.9 209.3,175.6 208.4,176.8 207.1,176.2" fill="#ffd232"/>
<polygon points="218.9,143.1 221.1,142.5 221.1,149.4 219.3,148.7 218.4,146.0" fill="#ff8240"/>
<polyline points="145.0,161.8 147.5,163.1 151.2,164.3 155.0,164.7 158.7,164.3 161.8,163.1 163.7,161.8" fill="none" stroke="#000000" stroke-width="0.75" stroke-linejoin="round" stroke-linecap="round"/>
<polyline points="143.7,170.6 147.5,171.2 152.5,170.6 157.5,169.7 161.2,168.7 163.5,167.7" fill="none" stroke="#000000" stroke-width="0.75" stroke-linejoin="round" stroke-linecap="round"/>
<polyline points="140.6,179.9 143.7,180.6 147.5,178.7 152.5,176.8 157.5,174.7 162.5,172.4 166.8,171.2 170.0,170.9" fill="none" stroke="#000000" stroke-width="0.75" stroke-linejoin="round" stroke-linecap="round"/>
<polyline points="139.4,184.9 143.7,184.7 148.7,183.9 153.7,182.4 158.7,180.6 163.7,178.1 167.5,175.6 170.0,173.9" fill="none" stroke="#000000" stroke-width="0.75" stroke-linejoin="round" stroke-linecap="round"/>
<polyline points="150.0,191.2 152.5,190.0 157.5,188.7 162.5,187.2 166.2,185.5 168.1,184.9" fill="none" stroke="#000000" stroke-width="0.75" stroke-linejoin="round" stroke-linecap="round"/>
<polyline points="150.0,190.0 153.7,189.4" fill="none" stroke="#000000" stroke-width="1.7" stroke-linejoin="round" stroke-linecap="round"/>
<polyline points="165.0,161.6 166.8,163.7 169.3,164.7 170.6,166.8 170.6,169.9" fill="none" stroke="#000000" stroke-width="2.4" stroke-linejoin="round" stroke-linecap="round"/>
<polyline points="154.7,151.5 160.0,152.0" fill="none" stroke="#000000" stroke-width="2.0" stroke-linejoin="round" stroke-linecap="round"/>
<polyline points="156.8,151.2 160.0,151.6" fill="none" stroke="#32ff00" stroke-width="1.5" stroke-linejoin="round" stroke-linecap="round"/>
<polyline points="171.0,176.2 171.0,178.1" fill="none" stroke="#000000" stroke-width="1.8" stroke-linejoin="round" stroke-linecap="round"/>
<polyline points="201.8,171.8 200.9,176.2" fill="none" stroke="#ff8240" stroke-width="1.0" stroke-linejoin="round" stroke-linecap="round"/>
<polyline points="221.1,142.5 218.9,143.1 218.4,146.0 219.3,148.7 221.1,149.4" fill="none" stroke="#000000" stroke-width="0.75" stroke-linejoin="round" stroke-linecap="round"/>
</g>
<clipPath id="c13"><rect x="430" y="185" width="80" height="55"/></clipPath>
<g clip-path="url(#c13)">
<polygon points="429.4,184.4 510.6,184.4 510.6,240.6 429.4,240.6" fill="#ffffff"/>
<polygon points="429.4,230.9 430.0,231.2 433.7,232.4 438.7,234.4 443.7,236.5 448.7,238.8 453.1,241.2 511.1,241.2 511.1,184.4 429.4,184.4" fill="#ff8240"/>
<polygon points="429.4,229.2 430.0,229.4 433.7,230.7 438.7,232.7 443.7,234.8 448.7,237.0 453.1,239.4 454.7,241.2 511.1,241.2 511.1,184.4 429.4,184.4" fill="#ffd232"/>
<polygon points="429.4,227.3 430.0,227.6 433.7,228.8 438.7,230.8 443.7,232.9 448.7,235.2 453.1,237.5 456.3,241.2 511.1,241.2 511.1,184.4 429.4,184.4" fill="#ffffa0"/>
<polygon points="429.4,225.4 430.0,225.7 433.7,226.9 438.7,228.9 443.7,231.1 448.7,233.3 453.1,235.7 458.0,241.2 511.1,241.2 511.1,184.4 429.4,184.4" fill="#a0ff78"/>
<polygon points="429.4,223.6 430.0,223.8 433.7,225.1 438.7,227.1 443.7,229.2 448.7,231.4 453.1,233.8 459.7,241.2 511.1,241.2 511.1,184.4 429.4,184.4" fill="#32ff00"/>
<polygon points="429.4,220.2 430.0,220.4 433.7,221.7 438.7,223.7 443.7,225.8 448.7,228.1 453.1,230.4 462.7,241.2 511.1,241.2 511.1,184.4 429.4,184.4" fill="#00e1ff"/>
<polygon points="429.4,186.5 435.0,186.2 437.5,187.2 438.5,188.7 437.5,190.6 435.0,191.2 429.4,191.2" fill="#32ff00"/>
<polygon points="429.4,196.9 433.7,197.2 438.7,197.5 443.7,197.5 448.7,197.2 453.7,197.5 457.5,198.7 461.2,199.7 465.6,199.7 466.2,203.7 468.1,207.5 469.9,210.6 471.8,214.3 473.7,218.1 476.2,221.2 479.3,223.1 481.8,224.9 483.7,228.1 483.4,230.2 479.9,231.8 477.4,233.0 473.7,231.2 469.9,229.3 466.2,227.4 462.4,226.2 458.7,225.2 455.0,224.7 451.2,225.2 447.5,224.3 445.0,221.8 442.5,219.3 440.6,216.8 438.1,216.0 435.0,218.1 431.2,217.7 429.4,217.2" fill="#007dff"/>
<polygon points="429.4,204.7 431.9,205.6 434.4,208.1 435.0,211.5 433.5,214.7 430.6,216.2 429.4,216.5" fill="#00e1ff"/>
<ellipse cx="446.8" cy="204.7" rx="6.5" ry="2.1" fill="#0000cd" stroke="#000" stroke-width="0.75"/>
<polygon points="464.9,219.3 467.4,218.4 469.9,216.8 471.8,217.7 471.2,220.6 469.3,222.1 466.8,221.2" fill="#0000cd"/>
<polygon points="470.6,184.4 469.3,187.5 467.4,190.6 466.2,194.4 466.8,197.5 465.6,200.6 466.2,203.7 468.1,207.5 469.9,210.6 471.8,214.3 473.7,218.1 476.2,221.2 479.3,223.1 481.8,224.9 483.7,228.1 483.4,232.4 483.0,236.2 483.7,241.2 511.1,241.2 511.1,184.4" fill="#ffffff"/>
<polygon points="447.2,190.2 451.8,190.2 451.8,194.0 447.2,194.0" fill="#ffffff"/>
<polygon points="429.4,186.5 435.0,186.2 437.5,187.2 438.5,188.7 437.5,190.6 435.0,191.2 429.4,191.2" fill="none" stroke="#000" stroke-width="0.75" stroke-linejoin="round"/>
<polygon points="429.4,204.7 431.9,205.6 434.4,208.1 435.0,211.5 433.5,214.7 430.6,216.2 429.4,216.5" fill="none" stroke="#000" stroke-width="0.75" stroke-linejoin="round"/>
<polygon points="464.9,219.3 467.4,218.4 469.9,216.8 471.8,217.7 471.2,220.6 469.3,222.1 466.8,221.2" fill="none" stroke="#000" stroke-width="0.4" stroke-linejoin="round"/>
<polygon points="447.2,190.2 451.8,190.2 451.8,194.0 447.2,194.0" fill="none" stroke="#000" stroke-width="0.6" stroke-linejoin="round"/>
<polyline points="429.4,196.9 433.7,197.2 438.7,197.5 443.7,197.5 448.7,197.2 453.7,197.5 457.5,198.7 461.2,199.7 465.6,199.7" fill="none" stroke="#000000" stroke-width="0.75" stroke-linejoin="round" stroke-linecap="round"/>
<polyline points="483.4,230.2 479.9,231.8 477.4,233.0 473.7,231.2 469.9,229.3 466.2,227.4 462.4,226.2 458.7,225.2 455.0,224.7 451.2,225.2 447.5,224.3 445.0,221.8 442.5,219.3 440.6,216.8 438.1,216.0 435.0,218.1 431.2,217.7 429.4,217.2" fill="none" stroke="#000000" stroke-width="0.75" stroke-linejoin="round" stroke-linecap="round"/>
<polyline points="429.4,230.9 430.0,231.2 433.7,232.4 438.7,234.4 443.7,236.5 448.7,238.8 453.1,241.2" fill="none" stroke="#000000" stroke-width="0.75" stroke-linejoin="round" stroke-linecap="round"/>
<polyline points="429.4,229.2 430.0,229.4 433.7,230.7 438.7,232.7 443.7,234.8 448.7,237.0 453.1,239.4 454.7,241.2" fill="none" stroke="#000000" stroke-width="0.75" stroke-linejoin="round" stroke-linecap="round"/>
<polyline points="429.4,227.3 430.0,227.6 433.7,228.8 438.7,230.8 443.7,232.9 448.7,235.2 453.1,237.5 456.3,241.2" fill="none" stroke="#000000" stroke-width="1.7" stroke-linejoin="round" stroke-linecap="round"/>
<polyline points="429.4,225.4 430.0,225.7 433.7,226.9 438.7,228.9 443.7,231.1 448.7,233.3 453.1,235.7 458.0,241.2" fill="none" stroke="#000000" stroke-width="0.75" stroke-linejoin="round" stroke-linecap="round"/>
<polyline points="429.4,223.6 430.0,223.8 433.7,225.1 438.7,227.1 443.7,229.2 448.7,231.4 453.1,233.8 459.7,241.2" fill="none" stroke="#000000" stroke-width="0.75" stroke-linejoin="round" stroke-linecap="round"/>
<polyline points="429.4,220.2 430.0,220.4 433.7,221.7 438.7,223.7 443.7,225.8 448.7,228.1 453.1,230.4 462.7,241.2" fill="none" stroke="#000000" stroke-width="0.75" stroke-linejoin="round" stroke-linecap="round"/>
</g>
<clipPath id="c14"><rect x="215" y="145" width="80" height="55"/></clipPath>
<g clip-path="url(#c14)">
<polygon points="214.4,144.4 295.6,144.4 295.6,200.6 214.4,200.6" fill="#ffffff"/>
<polygon points="219.4,144.4 220.0,148.1 222.5,151.2 226.2,153.7 230.0,155.2 233.7,156.2 236.5,157.5 240.0,157.1 243.1,156.9 245.0,157.5 245.3,160.0 244.3,163.1 243.1,166.8 241.2,170.0 239.3,173.1 237.5,175.6 240.0,177.4 245.0,178.9 249.9,179.9 254.9,180.6 264.9,181.7 272.2,182.4 277.4,182.8 282.4,183.1 287.4,183.3 291.1,184.2 296.1,185.6 296.1,144.4" fill="#ff8240"/>
<polygon points="237.5,144.4 240.0,146.9 245.0,148.7 249.9,150.6 254.9,152.5 258.7,154.4 261.8,156.2 263.0,159.4 263.7,162.5 264.3,164.3 263.0,166.8 262.4,169.3 261.2,171.2 257.4,171.8 254.9,172.7 272.2,180.9 277.4,181.3 282.4,181.6 287.4,181.8 291.1,182.7 296.1,183.9 296.1,144.4" fill="#ffd232"/>
<polygon points="268.7,144.4 271.2,148.1 274.9,150.6 279.9,151.2 284.9,151.9 288.0,153.7 288.9,157.5 288.6,161.2 286.1,163.7 282.4,166.8 278.7,169.3 275.5,171.2 272.4,172.2 272.2,178.9 277.4,179.7 282.4,179.9 287.4,180.3 292.4,181.2 296.1,181.9 296.1,144.4" fill="#ffffa0"/>
<polygon points="296.1,165.0 289.9,168.1 286.1,171.8 285.5,174.0 287.4,176.2 291.1,177.7 296.1,178.7" fill="#a0ff78"/>
<ellipse cx="293.6" cy="174.7" rx="2.7" ry="1.5" fill="#32ff00" stroke="#000" stroke-width="0.75"/>
<polyline points="219.4,144.4 220.0,148.1 222.5,151.2 226.2,153.7 230.0,155.2 233.7,156.2 236.5,157.5 240.0,157.1 243.1,156.9 245.0,157.5 245.3,160.0 244.3,163.1 243.1,166.8 241.2,170.0 239.3,173.1 237.5,175.6 240.0,177.4 245.0,178.9 249.9,179.9 254.9,180.6 264.9,181.7 272.2,182.4 277.4,182.8 282.4,183.1 287.4,183.3 291.1,184.2 296.1,185.6" fill="none" stroke="#000000" stroke-width="0.75" stroke-linejoin="round" stroke-linecap="round"/>
<polyline points="237.5,144.4 240.0,146.9 245.0,148.7 249.9,150.6 254.9,152.5 258.7,154.4 261.8,156.2 263.0,159.4 263.7,162.5 264.3,164.3 263.0,166.8 262.4,169.3 261.2,171.2 257.4,171.8 254.9,172.7" fill="none" stroke="#000000" stroke-width="0.75" stroke-linejoin="round" stroke-linecap="round"/>
<polyline points="272.2,180.9 277.4,181.3 282.4,181.6 287.4,181.8 291.1,182.7 296.1,183.9" fill="none" stroke="#000000" stroke-width="0.75" stroke-linejoin="round" stroke-linecap="round"/>
<polyline points="268.7,144.4 271.2,148.1 274.9,150.6 279.9,151.2 284.9,151.9 288.0,153.7 288.9,157.5 288.6,161.2 286.1,163.7 282.4,166.8 278.7,169.3 275.5,171.2 272.4,172.2" fill="none" stroke="#000000" stroke-width="1.7" stroke-linejoin="round" stroke-linecap="round"/>
<polyline points="272.2,178.9 277.4,179.7 282.4,179.9 287.4,180.3 292.4,181.2 296.1,181.9" fill="none" stroke="#000000" stroke-width="1.7" stroke-linejoin="round" stroke-linecap="round"/>
<polyline points="296.1,165.0 289.9,168.1 286.1,171.8 285.5,174.0 287.4,176.2 291.1,177.7 296.1,178.7" fill="none" stroke="#000000" stroke-width="0.75" stroke-linejoin="round" stroke-linecap="round"/>
</g>
<clipPath id="c15"><rect x="290" y="165" width="80" height="55"/></clipPath>
<g clip-path="url(#c15)">
<polygon points="289.4,164.4 370.6,164.4 370.6,220.6 289.4,220.6" fill="#ffffff"/>
<polygon points="289.4,182.8 290.0,183.1 293.7,185.0 297.5,187.2 301.2,189.3 305.0,191.8 308.7,195.0 312.5,197.4 317.5,197.7 322.4,197.7 327.4,198.4 332.4,200.2 337.4,200.6 342.4,200.3 346.2,201.8 348.7,204.9 352.4,207.4 357.4,208.7 362.4,209.3 371.1,208.9 371.1,164.4 289.4,164.4" fill="#ff8240"/>
<polygon points="289.4,180.7 290.0,181.0 293.7,182.5 297.5,184.3 301.2,185.2 305.0,186.2 308.7,187.5 312.5,189.3 315.0,190.0 318.1,188.7 321.2,188.7 324.9,190.0 328.7,191.8 332.4,194.3 336.2,196.8 339.9,197.7 343.7,198.7 347.4,201.2 351.2,203.9 354.9,206.2 359.9,207.2 364.9,207.4 371.1,207.2 371.1,164.4 289.4,164.4" fill="#ffd232"/>
<polygon points="289.4,179.5 290.0,179.7 293.7,181.0 297.5,182.5 302.5,183.5 307.5,184.0 312.5,184.3 317.5,184.3 322.4,184.7 327.4,186.0 332.4,187.7 337.4,190.0 341.2,192.5 344.9,195.6 348.7,198.7 352.4,201.4 356.1,204.3 359.9,205.6 364.9,205.2 371.1,204.7 371.1,164.4 289.4,164.4" fill="#ffffa0"/>
<polygon points="289.4,178.4 290.0,178.5 293.7,179.4 298.7,179.7 303.7,179.7 308.7,180.2 313.7,180.6 318.7,181.0 322.4,181.8 327.4,183.5 332.4,185.0 337.4,186.2 342.4,187.5 347.4,188.1 352.4,188.7 355.5,189.3 356.1,191.8 354.3,194.3 354.9,196.8 357.4,199.3 359.9,201.8 363.6,202.4 367.4,202.2 371.1,202.4 371.1,164.4 289.4,164.4" fill="#a0ff78"/>
<polygon points="312.5,170.0 313.1,171.9 316.2,173.7 321.2,175.6 327.4,177.5 333.7,179.4 339.9,181.0 346.2,182.5 352.4,183.7 358.6,184.3 364.9,185.0 371.1,185.6 371.1,164.4 322.4,164.4 317.5,166.0 313.7,167.5" fill="#32ff00"/>
<polygon points="348.7,164.4 346.8,168.7 344.9,171.9 345.5,175.0 348.7,177.5 353.7,179.7 359.9,180.6 364.9,181.0 371.1,181.2 371.1,164.4" fill="#00e1ff"/>
<polygon points="361.8,164.4 359.9,167.5 361.1,170.0 364.9,171.9 371.1,172.2 371.1,164.4" fill="#007dff"/>
<polygon points="289.4,164.4 294.4,164.4 292.5,166.9 289.4,168.1" fill="#ffffa0"/>
<ellipse cx="294.6" cy="174.0" rx="3.1" ry="1.5" fill="#32ff00" stroke="#000" stroke-width="0.75"/>
<ellipse cx="336.8" cy="170.0" rx="3.1" ry="1.4" fill="#00e1ff" stroke="#000" stroke-width="0.75"/>
<polygon points="312.5,170.0 313.1,171.9 316.2,173.7 321.2,175.6 327.4,177.5 333.7,179.4 339.9,181.0 346.2,182.5 352.4,183.7 358.6,184.3 364.9,185.0 371.1,185.6 371.1,164.4 322.4,164.4 317.5,166.0 313.7,167.5" fill="none" stroke="#000" stroke-width="0.75" stroke-linejoin="round"/>
<polygon points="348.7,164.4 346.8,168.7 344.9,171.9 345.5,175.0 348.7,177.5 353.7,179.7 359.9,180.6 364.9,181.0 371.1,181.2 371.1,164.4" fill="none" stroke="#000" stroke-width="0.75" stroke-linejoin="round"/>
<polygon points="361.8,164.4 359.9,167.5 361.1,170.0 364.9,171.9 371.1,172.2 371.1,164.4" fill="none" stroke="#000" stroke-width="0.75" stroke-linejoin="round"/>
<polygon points="289.4,164.4 294.4,164.4 292.5,166.9 289.4,168.1" fill="none" stroke="#000" stroke-width="0.75" stroke-linejoin="round"/>
<polyline points="289.4,182.8 290.0,183.1 293.7,185.0 297.5,187.2 301.2,189.3 305.0,191.8 308.7,195.0 312.5,197.4 317.5,197.7 322.4,197.7 327.4,198.4 332.4,200.2 337.4,200.6 342.4,200.3 346.2,201.8 348.7,204.9 352.4,207.4 357.4,208.7 362.4,209.3 371.1,208.9" fill="none" stroke="#000000" stroke-width="0.75" stroke-linejoin="round" stroke-linecap="round"/>
<polyline points="289.4,180.7 290.0,181.0 293.7,182.5 297.5,184.3 301.2,185.2 305.0,186.2 308.7,187.5 312.5,189.3 315.0,190.0 318.1,188.7 321.2,188.7 324.9,190.0 328.7,191.8 332.4,194.3 336.2,196.8 339.9,197.7 343.7,198.7 347.4,201.2 351.2,203.9 354.9,206.2 359.9,207.2 364.9,207.4 371.1,207.2" fill="none" stroke="#000000" stroke-width="0.75" stroke-linejoin="round" stroke-linecap="round"/>
<polyline points="289.4,179.5 290.0,179.7 293.7,181.0 297.5,182.5 302.5,183.5 307.5,184.0 312.5,184.3 317.5,184.3 322.4,184.7 327.4,186.0 332.4,187.7 337.4,190.0 341.2,192.5 344.9,195.6 348.7,198.7 352.4,201.4 356.1,204.3 359.9,205.6 364.9,205.2 371.1,204.7" fill="none" stroke="#000000" stroke-width="1.7" stroke-linejoin="round" stroke-linecap="round"/>
<polyline points="289.4,178.4 290.0,178.5 293.7,179.4 298.7,179.7 303.7,179.7 308.7,180.2 313.7,180.6 318.7,181.0 322.4,181.8 327.4,183.5 332.4,185.0 337.4,186.2 342.4,187.5 347.4,188.1 352.4,188.7 355.5,189.3 356.1,191.8 354.3,194.3 354.9,196.8 357.4,199.3 359.9,201.8 363.6,202.4 367.4,202.2 371.1,202.4" fill="none" stroke="#000000" stroke-width="0.75" stroke-linejoin="round" stroke-linecap="round"/>
</g>
<clipPath id="c16"><rect x="370" y="190" width="80" height="55"/></clipPath>
<g clip-path="url(#c16)">
<polygon points="369.4,189.4 450.6,189.4 450.6,245.6 369.4,245.6" fill="#ffffff"/>
<polygon points="369.4,208.5 370.0,208.7 373.7,210.6 377.5,213.7 382.5,216.8 387.5,218.5 393.1,219.3 409.9,224.3 414.9,225.8 419.9,227.8 426.2,229.9 432.4,232.2 438.6,234.6 444.9,236.7 451.1,238.7 451.1,189.4 369.4,189.4" fill="#ff8240"/>
<polygon points="369.4,206.6 370.0,206.8 373.7,208.7 377.5,211.8 382.5,215.0 387.5,216.6 393.1,217.5 409.9,222.6 414.9,224.1 419.9,226.1 426.2,228.2 432.4,230.4 438.6,232.8 444.9,234.9 451.1,236.9 451.1,189.4 369.4,189.4" fill="#ffd232"/>
<polygon points="369.4,204.7 370.0,205.0 373.7,206.8 377.5,210.0 382.5,213.1 387.5,214.7 393.1,215.6 409.9,220.7 414.9,222.2 419.9,224.2 426.2,226.3 432.4,228.6 438.6,230.9 444.9,233.1 451.1,235.1 451.1,189.4 369.4,189.4" fill="#ffffa0"/>
<polygon points="369.4,202.9 370.0,203.1 373.7,205.0 377.5,208.1 382.5,211.2 387.5,212.8 393.1,213.7 409.9,219.0 414.9,220.5 419.9,222.4 426.2,224.6 432.4,226.8 438.6,229.2 444.9,231.3 451.1,233.3 451.1,189.4 369.4,189.4" fill="#a0ff78"/>
<polygon points="378.7,189.4 377.5,193.1 376.2,196.2 376.0,199.4 377.5,202.5 380.0,205.0 383.7,207.5 388.7,209.7 393.1,212.1 409.9,217.1 414.9,218.6 419.9,220.6 426.2,222.7 432.4,224.9 438.6,227.3 444.9,229.4 451.1,231.4 451.1,189.4" fill="#32ff00"/>
<polygon points="381.2,201.2 381.9,199.4 385.0,197.7 390.0,197.5 395.0,197.7 400.0,196.9 403.7,195.2 407.4,193.7 412.4,192.2 417.4,191.0 422.4,190.2 438.0,189.4 451.1,189.4 451.1,230.2 446.1,228.2 441.1,226.2 434.9,223.7 428.7,221.2 423.7,218.5 421.8,215.6 420.5,213.1 418.0,211.5 415.6,212.5 412.4,213.7 409.9,211.8 408.1,208.7 406.8,205.6 403.7,203.7 400.0,204.0 395.0,206.0 390.0,206.2 385.6,205.6 382.5,203.7" fill="#00e1ff"/>
<polygon points="418.7,199.4 419.9,197.7 423.7,196.2 428.7,196.0 434.9,196.9 439.9,197.2 444.9,197.7 451.1,197.5 451.1,226.4 448.6,225.6 444.9,223.7 442.4,221.2 439.9,217.5 438.0,216.5 434.9,217.7 431.2,217.7 430.5,216.2 432.4,213.7 434.3,210.6 432.4,207.5 428.7,203.7 424.9,201.9 421.2,201.0" fill="#007dff"/>
<polygon points="451.1,202.5 442.4,202.7 440.5,204.4 442.4,206.2 451.1,206.2" fill="#0000cd"/>
<polygon points="381.2,201.2 381.9,199.4 385.0,197.7 390.0,197.5 395.0,197.7 400.0,196.9 403.7,195.2 407.4,193.7 412.4,192.2 417.4,191.0 422.4,190.2 438.0,189.4 451.1,189.4 451.1,230.2 446.1,228.2 441.1,226.2 434.9,223.7 428.7,221.2 423.7,218.5 421.8,215.6 420.5,213.1 418.0,211.5 415.6,212.5 412.4,213.7 409.9,211.8 408.1,208.7 406.8,205.6 403.7,203.7 400.0,204.0 395.0,206.0 390.0,206.2 385.6,205.6 382.5,203.7" fill="none" stroke="#000" stroke-width="0.75" stroke-linejoin="round"/>
<polygon points="418.7,199.4 419.9,197.7 423.7,196.2 428.7,196.0 434.9,196.9 439.9,197.2 444.9,197.7 451.1,197.5 451.1,226.4 448.6,225.6 444.9,223.7 442.4,221.2 439.9,217.5 438.0,216.5 434.9,217.7 431.2,217.7 430.5,216.2 432.4,213.7 434.3,210.6 432.4,207.5 428.7,203.7 424.9,201.9 421.2,201.0" fill="none" stroke="#000" stroke-width="0.75" stroke-linejoin="round"/>
<polygon points="451.1,202.5 442.4,202.7 440.5,204.4 442.4,206.2 451.1,206.2" fill="none" stroke="#000" stroke-width="0.75" stroke-linejoin="round"/>
<polyline points="369.4,208.5 370.0,208.7 373.7,210.6 377.5,213.7 382.5,216.8 387.5,218.5 393.1,219.3 409.9,224.3 414.9,225.8 419.9,227.8 426.2,229.9 432.4,232.2 438.6,234.6 444.9,236.7 451.1,238.7" fill="none" stroke="#000000" stroke-width="0.75" stroke-linejoin="round" stroke-linecap="round"/>
<polyline points="369.4,206.6 370.0,206.8 373.7,208.7 377.5,211.8 382.5,215.0 387.5,216.6 393.1,217.5 409.9,222.6 414.9,224.1 419.9,226.1 426.2,228.2 432.4,230.4 438.6,232.8 444.9,234.9 451.1,236.9" fill="none" stroke="#000000" stroke-width="0.75" stroke-linejoin="round" stroke-linecap="round"/>
<polyline points="369.4,204.7 370.0,205.0 373.7,206.8 377.5,210.0 382.5,213.1 387.5,214.7 393.1,215.6 409.9,220.7 414.9,222.2 419.9,224.2 426.2,226.3 432.4,228.6 438.6,230.9 444.9,233.1 451.1,235.1" fill="none" stroke="#000000" stroke-width="1.7" stroke-linejoin="round" stroke-linecap="round"/>
<polyline points="369.4,202.9 370.0,203.1 373.7,205.0 377.5,208.1 382.5,211.2 387.5,212.8 393.1,213.7 409.9,219.0 414.9,220.5 419.9,222.4 426.2,224.6 432.4,226.8 438.6,229.2 444.9,231.3 451.1,233.3" fill="none" stroke="#000000" stroke-width="0.75" stroke-linejoin="round" stroke-linecap="round"/>
<polyline points="378.7,189.4 377.5,193.1 376.2,196.2 376.0,199.4 377.5,202.5 380.0,205.0 383.7,207.5 388.7,209.7 393.1,212.1 409.9,217.1 414.9,218.6 419.9,220.6 426.2,222.7 432.4,224.9 438.6,227.3 444.9,229.4 451.1,231.4" fill="none" stroke="#000000" stroke-width="0.75" stroke-linejoin="round" stroke-linecap="round"/>
</g>
<clipPath id="c17"><rect x="420" y="218" width="80" height="55"/></clipPath>
<g clip-path="url(#c17)">
<polygon points="419.4,217.4 500.6,217.4 500.6,273.6 419.4,273.6" fill="#ffffff"/>
<polygon points="419.4,227.9 420.0,228.1 425.0,229.6 430.0,231.5 435.0,233.4 440.0,235.2 445.0,236.7 450.0,237.7 453.7,239.2 457.4,242.0 461.2,245.7 464.9,250.0 468.0,254.2 471.2,258.6 473.7,262.9 475.5,267.3 476.4,270.2 478.7,267.9 484.9,255.4 484.9,217.4 419.4,217.4" fill="#ff8240"/>
<polygon points="419.4,226.1 420.0,226.4 425.0,227.9 430.0,229.7 435.0,231.6 440.0,233.5 445.0,235.0 450.0,235.8 453.9,237.3 457.8,240.0 461.7,243.5 465.4,247.7 468.7,251.9 471.7,256.2 474.2,260.7 475.8,265.4 476.4,269.2 478.7,267.9 484.9,255.4 484.9,217.4 419.4,217.4" fill="#ffd232"/>
<polygon points="419.4,224.2 420.0,224.5 425.0,226.0 430.0,227.9 435.0,229.7 440.0,231.6 445.0,233.1 450.0,234.0 454.4,235.5 458.4,238.0 462.2,241.5 465.9,245.7 469.3,249.7 472.2,253.9 474.5,258.2 476.0,262.9 476.7,267.9 478.7,266.7 484.9,255.4 484.9,217.4 419.4,217.4" fill="#ffffa0"/>
<polygon points="419.4,222.5 420.0,222.7 425.0,224.2 430.0,226.1 435.0,228.0 440.0,229.9 445.0,231.4 450.0,232.2 454.9,233.6 458.9,236.1 462.7,239.5 466.4,243.5 470.2,247.5 473.2,251.2 475.4,255.4 476.7,259.8 477.0,265.4 478.7,265.4 484.9,255.4 484.9,217.4 419.4,217.4" fill="#a0ff78"/>
<polygon points="419.4,220.6 420.0,220.9 425.0,222.4 430.0,224.2 435.0,226.2 440.0,228.2 445.0,229.6 450.0,230.5 454.9,232.0 459.9,234.3 463.7,237.1 467.4,240.5 471.2,243.0 474.9,245.2 477.4,248.6 478.4,252.9 478.4,257.9 477.7,264.2 479.3,264.2 484.9,255.4 484.9,217.4 419.4,217.4" fill="#32ff00"/>
<polygon points="419.4,217.6 420.0,217.9 425.0,219.5 432.5,222.7 437.5,224.9 442.5,226.5 447.5,228.0 452.4,229.0 457.4,230.5 461.2,233.0 464.9,235.2 468.7,236.5 472.4,238.6 476.2,241.1 478.7,243.0 480.5,246.7 480.9,250.7 482.4,250.7 484.9,255.4 484.9,217.4 419.4,217.4" fill="#00e1ff"/>
<polygon points="441.2,217.4 443.7,221.1 447.5,223.6 451.2,224.9 456.2,224.5 459.9,225.2 464.9,227.4 469.9,229.5 474.9,231.5 478.0,233.0 481.2,230.5 482.8,228.6 484.9,228.6 484.9,217.4" fill="#007dff"/>
<polygon points="464.9,217.4 466.2,219.9 468.7,221.1 471.8,219.9 473.0,217.4" fill="#0000cd"/>
<polygon points="473.0,217.4 474.9,220.5 478.7,223.0 481.8,225.5 483.4,228.6 483.0,231.7 482.4,235.5 481.8,239.2 481.2,243.0 480.9,246.7 480.2,251.7 479.7,255.4 478.9,260.4 478.0,264.2 477.2,267.9 476.4,270.2 476.4,274.2 501.1,274.2 501.1,217.4" fill="#ffffff"/>
<polygon points="464.9,217.4 466.2,219.9 468.7,221.1 471.8,219.9 473.0,217.4" fill="none" stroke="#000" stroke-width="0.75" stroke-linejoin="round"/>
<polyline points="419.4,227.9 420.0,228.1 425.0,229.6 430.0,231.5 435.0,233.4 440.0,235.2 445.0,236.7 450.0,237.7 453.7,239.2 457.4,242.0 461.2,245.7 464.9,250.0 468.0,254.2 471.2,258.6 473.7,262.9 475.5,267.3 476.4,270.2" fill="none" stroke="#000000" stroke-width="0.75" stroke-linejoin="round" stroke-linecap="round"/>
<polyline points="419.4,226.1 420.0,226.4 425.0,227.9 430.0,229.7 435.0,231.6 440.0,233.5 445.0,235.0 450.0,235.8 453.9,237.3 457.8,240.0 461.7,243.5 465.4,247.7 468.7,251.9 471.7,256.2 474.2,260.7 475.8,265.4 476.4,269.2" fill="none" stroke="#000000" stroke-width="0.75" stroke-linejoin="round" stroke-linecap="round"/>
<polyline points="419.4,224.2 420.0,224.5 425.0,226.0 430.0,227.9 435.0,229.7 440.0,231.6 445.0,233.1 450.0,234.0 454.4,235.5 458.4,238.0 462.2,241.5 465.9,245.7 469.3,249.7 472.2,253.9 474.5,258.2 476.0,262.9 476.7,267.9" fill="none" stroke="#000000" stroke-width="1.7" stroke-linejoin="round" stroke-linecap="round"/>
<polyline points="419.4,222.5 420.0,222.7 425.0,224.2 430.0,226.1 435.0,228.0 440.0,229.9 445.0,231.4 450.0,232.2 454.9,233.6 458.9,236.1 462.7,239.5 466.4,243.5 470.2,247.5 473.2,251.2 475.4,255.4 476.7,259.8 477.0,265.4" fill="none" stroke="#000000" stroke-width="0.75" stroke-linejoin="round" stroke-linecap="round"/>
<polyline points="419.4,220.6 420.0,220.9 425.0,222.4 430.0,224.2 435.0,226.2 440.0,228.2 445.0,229.6 450.0,230.5 454.9,232.0 459.9,234.3 463.7,237.1 467.4,240.5 471.2,243.0 474.9,245.2 477.4,248.6 478.4,252.9 478.4,257.9 477.7,264.2" fill="none" stroke="#000000" stroke-width="0.75" stroke-linejoin="round" stroke-linecap="round"/>
<polyline points="419.4,217.6 420.0,217.9 425.0,219.5 432.5,222.7 437.5,224.9 442.5,226.5 447.5,228.0 452.4,229.0 457.4,230.5 461.2,233.0 464.9,235.2 468.7,236.5 472.4,238.6 476.2,241.1 478.7,243.0 480.5,246.7 480.9,250.7" fill="none" stroke="#000000" stroke-width="0.75" stroke-linejoin="round" stroke-linecap="round"/>
<polyline points="441.2,217.4 443.7,221.1 447.5,223.6 451.2,224.9 456.2,224.5 459.9,225.2 464.9,227.4 469.9,229.5 474.9,231.5 478.0,233.0 481.2,230.5 482.8,228.6" fill="none" stroke="#000000" stroke-width="0.75" stroke-linejoin="round" stroke-linecap="round"/>
</g>
<clipPath id="c18"><rect x="215" y="95" width="80" height="55"/></clipPath>
<g clip-path="url(#c18)">
<polygon points="214.4,94.4 295.6,94.4 295.6,150.6 214.4,150.6" fill="#ffffff"/>
<polygon points="218.7,151.2 219.4,144.9 221.2,141.2 224.4,138.7 228.7,134.9 231.8,131.8 233.7,131.2 236.5,130.9 238.7,130.6 238.7,130.6 237.5,134.9 236.8,139.9 236.5,144.9 240.0,146.8 243.7,148.7 247.4,150.5" fill="#ff8240"/>
<polygon points="238.7,130.6 240.6,127.2 241.8,127.2 242.7,131.2 243.5,136.2 245.0,139.9 247.4,143.0 251.2,144.9 256.2,145.5 261.2,144.9 264.9,144.9 268.7,145.5 271.2,148.0 272.4,150.5 247.4,150.5 243.7,148.7 240.0,146.8 236.5,144.9 236.8,139.9 237.5,134.9 238.7,130.6" fill="#ffd232"/>
<polygon points="245.2,116.0 244.7,112.5 246.0,109.4 248.7,107.5 252.4,107.5 254.9,105.6 258.1,102.5 256.2,98.7 255.6,94.4 296.1,94.4 296.1,150.5 272.4,150.5 271.2,148.0 268.7,145.5 264.9,144.9 261.2,144.9 256.2,145.5 251.2,144.9 247.4,143.0 245.0,139.9 243.5,136.2 242.7,131.2 241.8,127.2 242.2,126.2 243.1,123.1 244.3,119.3 245.2,116.0" fill="#ffffa0"/>
<polygon points="261.4,94.4 260.6,100.0 258.7,105.0 258.1,108.7 261.8,112.5 264.3,116.2 267.4,119.3 271.2,121.2 272.4,122.5 268.7,125.6 263.7,127.4 257.4,129.9 253.1,132.4 257.4,134.3 264.9,136.6 272.4,138.2 278.7,139.3 282.5,141.2 287.5,142.4 292.4,143.0 297.4,143.4 296.1,94.4" fill="#a0ff78"/>
<polygon points="263.9,94.4 264.3,98.7 264.9,102.5 267.4,105.0 273.7,106.5 279.9,106.9 287.4,105.6 296.1,103.7 296.1,94.4" fill="#32ff00"/>
<polygon points="269.9,94.4 271.2,96.9 274.9,98.5 279.9,98.7 284.9,97.5 289.9,96.2 296.1,95.6 296.1,94.4" fill="#00e1ff"/>
<ellipse cx="249.3" cy="110.2" rx="3.2" ry="2.0" fill="#a0ff78"/>
<polygon points="247.7,100.6 249.3,98.7 252.4,99.4 254.9,98.1 257.4,97.5 258.1,100.0 256.8,102.5 253.7,103.7 250.6,104.0 248.4,102.7" fill="#ffd232"/>
<polygon points="247.7,100.6 249.3,98.7 252.4,99.4 254.9,98.1 257.4,97.5 258.1,100.0 256.8,102.5 253.7,103.7 250.6,104.0 248.4,102.7" fill="none" stroke="#000" stroke-width="1.7" stroke-linejoin="round"/>
<polyline points="218.7,151.2 219.4,144.9 221.2,141.2 224.4,138.7 228.7,134.9 231.8,131.8 233.7,131.2 236.5,130.9 238.7,130.6" fill="none" stroke="#000000" stroke-width="0.75" stroke-linejoin="round" stroke-linecap="round"/>
<polyline points="238.7,130.6 237.5,134.9 236.8,139.9 236.5,144.9 240.0,146.8 243.7,148.7 247.4,150.5" fill="none" stroke="#000000" stroke-width="0.75" stroke-linejoin="round" stroke-linecap="round"/>
<polyline points="245.2,116.0 244.3,119.3 243.1,123.1 242.2,126.2 241.8,127.2 242.7,131.2 243.5,136.2 245.0,139.9 247.4,143.0 251.2,144.9 256.2,145.5 261.2,144.9 264.9,144.9 268.7,145.5 271.2,148.0 272.4,150.5" fill="none" stroke="#000000" stroke-width="1.7" stroke-linejoin="round" stroke-linecap="round"/>
<polyline points="261.4,94.4 260.6,100.0 258.7,105.0 258.1,108.7 261.8,112.5 264.3,116.2 267.4,119.3 271.2,121.2 272.4,122.5 268.7,125.6 263.7,127.4 257.4,129.9 253.1,132.4 257.4,134.3 264.9,136.6 272.4,138.2 278.7,139.3 282.5,141.2 287.5,142.4 292.4,143.0 297.4,143.4" fill="none" stroke="#000000" stroke-width="0.75" stroke-linejoin="round" stroke-linecap="round"/>
<polyline points="263.9,94.4 264.3,98.7 264.9,102.5 267.4,105.0 273.7,106.5 279.9,106.9 287.4,105.6 296.1,103.7" fill="none" stroke="#000000" stroke-width="0.75" stroke-linejoin="round" stroke-linecap="round"/>
<polyline points="269.9,94.4 271.2,96.9 274.9,98.5 279.9,98.7 284.9,97.5 289.9,96.2 296.1,95.6" fill="none" stroke="#000000" stroke-width="0.75" stroke-linejoin="round" stroke-linecap="round"/>
</g>
<clipPath id="c19"><rect x="236" y="76" width="56" height="39"/></clipPath>
<g clip-path="url(#c19)">
<polygon points="235.6,75.6 292.4,75.6 292.4,115.4 235.6,115.4" fill="#ffffff"/>
<polygon points="246.4,83.5 250.1,84.1 254.5,84.6 257.1,86.4 259.1,89.0 261.5,91.1 263.3,93.2 264.0,96.7 264.0,99.1 261.5,99.8 259.8,101.5 258.5,104.2 258.0,107.3 259.3,110.3 261.5,112.1 262.4,115.6 244.8,115.6 245.7,113.0 247.0,111.2 247.4,108.6 247.9,102.4 250.1,98.5 251.4,95.8 250.1,92.7 249.2,89.2 247.9,85.7" fill="#ffffa0"/>
<polygon points="264.0,99.1 264.6,102.4 265.9,104.9 271.2,105.9 278.3,105.9 285.3,105.1 288.8,104.4 293.2,103.5 293.2,115.6 262.4,115.6 261.5,112.1 259.3,110.3 258.0,107.3 258.5,104.2 259.8,101.5 261.5,99.8 264.0,99.1" fill="#a0ff78"/>
<polygon points="264.0,99.8 265.9,98.5 271.2,93.6 270.8,95.8 272.1,98.0 275.6,99.1 280.0,99.1 284.4,98.0 288.8,97.1 293.2,95.8 293.2,103.5 293.2,103.5 288.8,104.4 285.3,105.1 278.3,105.9 271.2,105.9 265.9,104.9 264.6,102.4" fill="#32ff00"/>
<polygon points="271.2,93.4 273.4,89.6 276.1,85.7 277.4,83.0 279.1,80.4 280.0,77.8 280.5,75.6 293.2,75.6 293.2,95.8 288.8,97.1 284.4,98.0 280.0,99.1 275.6,99.1 272.1,98.0 270.8,95.8" fill="#00e1ff"/>
<polygon points="248.8,86.1 251.8,85.2 254.9,85.9 257.1,87.4 255.8,89.0 252.7,89.2 250.1,88.8" fill="#32ff00"/>
<polygon points="247.4,101.5 249.2,99.8 252.7,99.6 255.8,98.0 257.1,97.1 257.1,99.3 255.8,101.5 252.7,102.9 249.6,103.7 247.9,102.9" fill="#ffd232"/>
<ellipse cx="249.6" cy="110.3" rx="2.6" ry="1.7" fill="#a0ff78"/>
<ellipse cx="284.9" cy="84.4" rx="4.2" ry="3.3" fill="#32ff00"/>
<ellipse cx="283.1" cy="83.5" rx="2.2" ry="1.9" fill="#ffffff"/>
<polygon points="248.8,86.1 251.8,85.2 254.9,85.9 257.1,87.4 255.8,89.0 252.7,89.2 250.1,88.8" fill="none" stroke="#000" stroke-width="0.75" stroke-linejoin="round"/>
<polygon points="247.4,101.5 249.2,99.8 252.7,99.6 255.8,98.0 257.1,97.1 257.1,99.3 255.8,101.5 252.7,102.9 249.6,103.7 247.9,102.9" fill="none" stroke="#000" stroke-width="0.75" stroke-linejoin="round"/>
<polyline points="246.4,83.5 250.1,84.1 254.5,84.6 257.1,86.4 259.1,89.0 261.5,91.1 263.3,93.2 264.0,96.7" fill="none" stroke="#000000" stroke-width="1.7" stroke-linejoin="round" stroke-linecap="round"/>
<polyline points="264.0,97.8 265.9,97.1 269.5,93.6 273.4,89.2" fill="none" stroke="#000000" stroke-width="1.7" stroke-linejoin="round" stroke-linecap="round"/>
<polyline points="251.4,95.8 250.1,98.5 247.9,100.7" fill="none" stroke="#000000" stroke-width="1.7" stroke-linejoin="round" stroke-linecap="round"/>
<polyline points="252.3,105.1 254.9,103.5 257.6,101.5" fill="none" stroke="#000000" stroke-width="1.7" stroke-linejoin="round" stroke-linecap="round"/>
<polyline points="246.4,83.5 247.9,85.7 249.2,89.2" fill="none" stroke="#000000" stroke-width="1.7" stroke-linejoin="round" stroke-linecap="round"/>
<polyline points="270.8,95.8 272.1,98.0 275.6,99.1 280.0,99.1 284.4,98.0 288.8,97.1 293.2,95.8" fill="none" stroke="#000000" stroke-width="0.75" stroke-linejoin="round" stroke-linecap="round"/>
<polyline points="264.6,102.4 265.9,104.9 271.2,105.9 278.3,105.9 285.3,105.1 288.8,104.4 293.2,103.5" fill="none" stroke="#000000" stroke-width="0.75" stroke-linejoin="round" stroke-linecap="round"/>
<polyline points="264.0,99.1 261.5,99.8 259.8,101.5 258.5,104.2 258.0,107.3 259.3,110.3 261.5,112.1 262.4,115.6" fill="none" stroke="#000000" stroke-width="0.75" stroke-linejoin="round" stroke-linecap="round"/>
</g>
<clipPath id="c20"><rect x="270" y="65" width="80" height="55"/></clipPath>
<g clip-path="url(#c20)">
<polygon points="269.4,64.4 350.6,64.4 350.6,120.6 269.4,120.6" fill="#ffffff"/>
<polygon points="269.4,64.4 351.1,64.4 351.1,121.2 269.4,121.2" fill="#32ff00"/>
<polygon points="271.2,90.0 271.9,95.0 275.0,98.1 280.0,98.7 285.0,96.8 290.0,95.6 293.7,91.8 297.5,88.1 300.0,85.6 302.4,85.6 304.9,88.1 307.4,90.0 311.2,89.3 314.9,87.5 316.4,82.5 316.4,64.4 269.4,64.4 269.4,91.8" fill="#00e1ff"/>
<polygon points="331.8,86.8 336.1,88.1 341.1,89.3 346.1,91.2 351.1,93.1 351.1,64.4 331.8,64.4" fill="#00e1ff"/>
<polygon points="351.1,95.6 344.9,98.7 341.1,102.4 338.0,105.6 332.4,106.8 326.2,109.3 319.9,111.8 316.8,114.3 316.2,117.4 318.0,121.2 351.1,121.2" fill="#00e1ff"/>
<polygon points="269.4,106.2 275.0,105.6 280.0,104.9 285.0,103.7 290.0,102.4 295.0,100.6 300.0,99.3 306.2,99.7 312.4,100.6 315.6,101.4 316.2,103.1 313.7,104.9 310.6,107.4 307.4,110.6 305.6,114.3 303.7,118.0 302.4,121.2 269.4,121.2" fill="#a0ff78"/>
<polygon points="292.2,76.9 293.1,74.4 295.6,73.1 300.0,72.7 303.4,73.7 304.9,76.2 304.3,79.4 301.8,81.5 298.1,82.2 294.3,81.2 292.5,79.0" fill="#32ff00"/>
<ellipse cx="284.7" cy="84.3" rx="4.7" ry="4.0" fill="#32ff00"/>
<ellipse cx="283.1" cy="83.7" rx="2.2" ry="2.5" fill="#ffffff"/>
<polygon points="269.4,93.1 270.0,91.8 271.2,89.3 273.7,85.6 277.5,81.2 280.0,78.1 282.5,76.2 286.2,75.6 290.0,75.0 292.5,73.7 295.0,72.7 298.1,72.2 303.1,72.5 306.2,75.6 309.9,77.5 313.7,79.4 316.2,81.8 319.9,82.7 323.7,83.7 327.4,85.2 331.2,86.5 334.9,87.2 338.6,85.6 342.4,84.3 347.4,82.5 351.1,81.6 351.1,64.4 269.4,64.4" fill="#ffffff"/>
<polygon points="292.7,87.2 295.0,87.2 295.0,89.3 292.7,89.3" fill="#ffffff"/>
<polygon points="302.7,89.3 304.9,89.3 304.9,91.8 302.7,91.8" fill="#ffffff"/>
<polygon points="308.9,89.7 311.2,89.7 311.2,92.0 308.9,92.0" fill="#ffffff"/>
<polygon points="312.4,87.2 316.4,87.2 316.4,89.7 312.4,89.7" fill="#ffffff"/>
<polygon points="323.7,85.6 328.0,85.6 328.0,88.1 323.7,88.1" fill="#ffffff"/>
<ellipse cx="319.9" cy="88.7" rx="1.5" ry="1.5" fill="#000000"/>
<polygon points="292.2,76.9 293.1,74.4 295.6,73.1 300.0,72.7 303.4,73.7 304.9,76.2 304.3,79.4 301.8,81.5 298.1,82.2 294.3,81.2 292.5,79.0" fill="none" stroke="#000" stroke-width="0.75" stroke-linejoin="round"/>
<polyline points="298.1,72.2 303.1,72.5 306.2,75.6 309.9,77.5 313.7,79.4 316.2,81.8 319.9,82.7 323.7,83.7 327.4,85.2" fill="none" stroke="#000000" stroke-width="1.7" stroke-linejoin="round" stroke-linecap="round"/>
<polyline points="336.1,86.5 338.6,85.6 342.4,84.3 347.4,82.5 351.1,81.6" fill="none" stroke="#000000" stroke-width="1.7" stroke-linejoin="round" stroke-linecap="round"/>
<polyline points="269.4,93.7 273.5,89.1" fill="none" stroke="#000000" stroke-width="1.7" stroke-linejoin="round" stroke-linecap="round"/>
<polyline points="271.2,90.0 271.9,95.0 275.0,98.1 280.0,98.7 285.0,96.8 290.0,95.6 293.7,91.8 297.5,88.1 300.0,85.6 302.4,85.6 304.9,88.1 307.4,90.0 311.2,89.3 314.9,87.5" fill="none" stroke="#000000" stroke-width="0.75" stroke-linejoin="round" stroke-linecap="round"/>
<polyline points="331.8,86.8 336.1,88.1 341.1,89.3 346.1,91.2 351.1,93.1" fill="none" stroke="#000000" stroke-width="0.75" stroke-linejoin="round" stroke-linecap="round"/>
<polyline points="351.1,95.6 344.9,98.7 341.1,102.4 338.0,105.6 332.4,106.8 326.2,109.3 319.9,111.8 316.8,114.3 316.2,117.4 318.0,121.2" fill="none" stroke="#000000" stroke-width="0.75" stroke-linejoin="round" stroke-linecap="round"/>
<polyline points="269.4,106.2 275.0,105.6 280.0,104.9 285.0,103.7 290.0,102.4 295.0,100.6 300.0,99.3 306.2,99.7 312.4,100.6 315.6,101.4 316.2,103.1 313.7,104.9 310.6,107.4 307.4,110.6 305.6,114.3 303.7,118.0 302.4,121.2" fill="none" stroke="#000000" stroke-width="0.75" stroke-linejoin="round" stroke-linecap="round"/>
</g>
<clipPath id="c21"><rect x="75" y="168" width="80" height="47"/></clipPath>
<g clip-path="url(#c21)">
<polygon points="74.4,159.4 155.6,159.4 155.6,215.6 74.4,215.6" fill="#ffffff"/>
<polygon points="74.4,159.4 156.1,159.4 156.1,216.2 74.4,216.2" fill="#ff8240"/>
<polygon points="74.4,197.6 79.7,197.6 83.7,195.6 88.7,194.3 93.7,193.9 98.7,194.3 103.7,195.6 108.7,197.4 113.7,199.3 118.7,200.6 123.7,200.6 128.7,199.7 132.4,199.3 137.4,200.2 142.4,201.2 148.6,202.2 156.1,203.1 156.1,159.4 74.4,159.4" fill="#ffd232"/>
<polygon points="74.4,192.0 86.0,192.0 90.0,190.2 95.0,189.5 100.0,190.0 105.0,191.5 109.9,193.4 114.9,194.9 119.9,195.9 124.9,196.2 129.9,195.6 133.7,194.9 138.7,195.2 143.6,195.9 149.9,196.4 156.1,196.8 156.1,159.4 74.4,159.4" fill="#ffffa0"/>
<polygon points="74.4,187.0 90.2,187.0 93.7,185.0 98.7,184.3 103.7,184.7 108.7,186.0 113.7,187.2 118.7,188.5 123.7,189.5 128.7,190.2 133.7,190.6 138.7,190.3 143.6,190.0 149.9,189.5 156.1,189.0 156.1,159.4 74.4,159.4" fill="#a0ff78"/>
<polygon points="74.4,178.7 93.5,178.7 97.5,177.7 101.8,178.5 106.2,179.7 111.2,181.2 116.2,182.2 122.4,182.5 127.4,182.7 129.9,183.7 131.2,186.2 132.4,186.8 133.7,185.0 134.9,183.7 137.4,183.1 141.1,183.7 144.9,184.7 149.9,183.7 156.1,182.5 156.1,159.4 74.4,159.4" fill="#32ff00"/>
<polygon points="74.4,169.6 95.6,169.6 100.0,170.6 105.0,173.1 109.9,175.0 116.2,176.0 121.2,176.0 126.2,175.2 129.9,172.5 133.0,170.0 133.0,159.4 74.4,159.4" fill="#00e1ff"/>
<polygon points="74.4,159.4 96.2,159.4 96.2,169.4 95.6,170.0 94.3,173.7 93.7,178.7 92.5,182.5 90.6,186.8 88.1,190.0 86.2,191.8 82.5,194.9 80.0,197.4 78.7,201.2 78.1,205.6 80.0,201.8 83.7,199.7 88.7,198.7 93.7,198.7 100.0,198.9 104.3,199.7 106.2,201.8 105.6,203.7 108.7,204.3 113.7,205.6 118.7,206.8 123.7,207.4 128.7,207.2 133.7,207.2 138.7,208.0 144.9,208.9 149.9,209.3 156.1,208.9 156.1,216.2 74.4,216.2" fill="#ffffff"/>
<polygon points="129.9,159.4 131.8,167.5 133.0,170.0 134.9,172.5 136.8,175.6 138.7,177.5 140.1,176.0 141.1,172.5 141.8,167.5 143.0,159.4" fill="#ffffff"/>
<ellipse cx="129.5" cy="203.7" rx="1.7" ry="1.9" fill="#ffffff" stroke="#000" stroke-width="0.75"/>
<polyline points="78.1,205.6 80.0,201.8 83.7,199.7 88.7,198.7 93.7,198.7 100.0,198.9 104.3,199.7 106.2,201.8 105.6,203.7 108.7,204.3 113.7,205.6 118.7,206.8 123.7,207.4 128.7,207.2 133.7,207.2 138.7,208.0 144.9,208.9 149.9,209.3 156.1,208.9" fill="none" stroke="#000000" stroke-width="0.75" stroke-linejoin="round" stroke-linecap="round"/>
<polyline points="79.7,197.6 83.7,195.6 88.7,194.3 93.7,193.9 98.7,194.3 103.7,195.6 108.7,197.4 113.7,199.3 118.7,200.6 123.7,200.6 128.7,199.7 132.4,199.3 137.4,200.2 142.4,201.2 148.6,202.2 156.1,203.1" fill="none" stroke="#000000" stroke-width="0.75" stroke-linejoin="round" stroke-linecap="round"/>
<polyline points="86.0,192.0 90.0,190.2 95.0,189.5 100.0,190.0 105.0,191.5 109.9,193.4 114.9,194.9 119.9,195.9 124.9,196.2 129.9,195.6 133.7,194.9 138.7,195.2 143.6,195.9 149.9,196.4 156.1,196.8" fill="none" stroke="#000000" stroke-width="1.7" stroke-linejoin="round" stroke-linecap="round"/>
<polyline points="90.2,187.0 93.7,185.0 98.7,184.3 103.7,184.7 108.7,186.0 113.7,187.2 118.7,188.5 123.7,189.5 128.7,190.2 133.7,190.6 138.7,190.3 143.6,190.0 149.9,189.5 156.1,189.0" fill="none" stroke="#000000" stroke-width="0.75" stroke-linejoin="round" stroke-linecap="round"/>
<polyline points="93.5,178.7 97.5,177.7 101.8,178.5 106.2,179.7 111.2,181.2 116.2,182.2 122.4,182.5 127.4,182.7 129.9,183.7 131.2,186.2 132.4,186.8 133.7,185.0 134.9,183.7 137.4,183.1 141.1,183.7 144.9,184.7 149.9,183.7 156.1,182.5" fill="none" stroke="#000000" stroke-width="0.75" stroke-linejoin="round" stroke-linecap="round"/>
<polyline points="95.6,169.6 100.0,170.6 105.0,173.1 109.9,175.0 116.2,176.0 121.2,176.0 126.2,175.2 129.9,172.5 133.0,170.0" fill="none" stroke="#000000" stroke-width="0.75" stroke-linejoin="round" stroke-linecap="round"/>
<polyline points="131.8,167.5 133.7,171.2 136.2,175.0 137.4,176.8" fill="none" stroke="#000000" stroke-width="2.4" stroke-linejoin="round" stroke-linecap="round"/>
</g>
<clipPath id="c22"><rect x="135" y="168" width="80" height="47"/></clipPath>
<g clip-path="url(#c22)">
<polygon points="134.4,159.4 215.6,159.4 215.6,215.6 134.4,215.6" fill="#ffffff"/>
<polygon points="134.4,159.4 216.1,159.4 216.1,216.2 134.4,216.2" fill="#ff8240"/>
<polygon points="134.4,199.9 140.0,201.2 145.0,202.4 150.0,203.4 155.0,203.9 160.0,203.9 165.0,204.3 169.9,204.9 174.9,205.6 179.9,205.6 182.4,205.1 216.1,205.1 216.1,159.4 134.4,159.4" fill="#ffd232"/>
<polygon points="134.4,194.9 140.0,195.6 145.0,196.4 150.0,196.9 155.0,197.2 160.0,197.2 165.0,197.4 169.9,197.7 174.9,197.4 216.1,197.4 216.1,159.4 134.4,159.4" fill="#ffffa0"/>
<polygon points="134.4,190.0 140.0,190.2 145.0,190.0 150.0,189.3 155.0,188.5 160.0,187.2 165.0,185.6 168.2,184.7 216.1,184.7 216.1,159.4 134.4,159.4" fill="#a0ff78"/>
<polygon points="134.4,184.3 138.7,185.0 143.7,185.0 148.7,183.7 153.7,182.2 158.7,180.6 163.7,178.1 167.4,175.6 171.2,173.7 216.1,173.7 216.1,159.4 134.4,159.4" fill="#32ff00"/>
<polygon points="134.4,178.7 140.0,180.0 143.7,180.6 147.5,179.3 152.5,177.5 157.5,175.2 162.5,173.1 166.8,171.5 171.2,170.7 216.1,170.7 216.1,159.4 134.4,159.4" fill="#00e1ff"/>
<polygon points="142.5,170.6 143.7,170.6 147.5,171.5 152.5,171.0 157.5,170.0 162.5,168.7 165.6,167.5 165.6,159.4 142.5,159.4" fill="#007dff"/>
<polygon points="165.6,159.4 166.0,165.0 168.1,166.9 171.2,170.0 170.6,173.7 168.4,176.2 167.2,180.0 167.4,184.3 169.3,186.8 171.8,191.2 174.7,196.8 178.1,200.6 182.2,204.9 185.5,207.7 189.9,208.4 194.9,208.9 199.9,209.2 216.1,209.2 216.1,159.4" fill="#ffffff"/>
<polygon points="134.4,207.2 140.0,208.0 145.0,208.7 150.0,208.9 155.0,208.7 160.0,208.7 165.0,209.7 169.9,210.9 174.9,211.4 179.9,210.5 184.9,209.2 188.7,209.0 193.7,209.7 199.9,209.7 216.1,209.7 216.1,216.2 134.4,216.2" fill="#ffffff"/>
<polygon points="134.4,159.4 144.4,159.4 142.5,163.7 141.2,167.5 140.0,170.6 138.7,175.0 136.9,177.5 134.4,178.7" fill="#ffffff"/>
<ellipse cx="143.1" cy="176.2" rx="2.1" ry="4.1" fill="#ffffff"/>
<ellipse cx="207.1" cy="175.2" rx="1.7" ry="2.0" fill="#000000"/>
<polygon points="206.8,174.4 208.9,173.5 209.6,175.2 208.6,176.5 207.1,176.0" fill="#ffd232"/>
<polyline points="134.4,207.2 140.0,208.0 145.0,208.7 150.0,208.9 155.0,208.7 160.0,208.7 165.0,209.7 169.9,210.9 174.9,211.4 179.9,210.5 184.9,209.2 188.7,209.0 193.7,209.7 199.9,209.7" fill="none" stroke="#000000" stroke-width="0.75" stroke-linejoin="round" stroke-linecap="round"/>
<polyline points="134.4,199.9 140.0,201.2 145.0,202.4 150.0,203.4 155.0,203.9 160.0,203.9 165.0,204.3 169.9,204.9 174.9,205.6 179.9,205.6 182.4,205.1" fill="none" stroke="#000000" stroke-width="0.75" stroke-linejoin="round" stroke-linecap="round"/>
<polyline points="134.4,194.9 140.0,195.6 145.0,196.4 150.0,196.9 155.0,197.2 160.0,197.2 165.0,197.4 169.9,197.7 174.9,197.4" fill="none" stroke="#000000" stroke-width="1.7" stroke-linejoin="round" stroke-linecap="round"/>
<polyline points="134.4,190.0 140.0,190.2 145.0,190.0 150.0,189.3 155.0,188.5 160.0,187.2 165.0,185.6 168.2,184.7" fill="none" stroke="#000000" stroke-width="0.75" stroke-linejoin="round" stroke-linecap="round"/>
<polyline points="134.4,184.3 138.7,185.0 143.7,185.0 148.7,183.7 153.7,182.2 158.7,180.6 163.7,178.1 167.4,175.6 171.2,173.7" fill="none" stroke="#000000" stroke-width="0.75" stroke-linejoin="round" stroke-linecap="round"/>
<polyline points="140.0,180.0 143.7,180.6 147.5,179.3 152.5,177.5 157.5,175.2 162.5,173.1 166.8,171.5 171.2,170.7" fill="none" stroke="#000000" stroke-width="0.75" stroke-linejoin="round" stroke-linecap="round"/>
<polyline points="143.7,170.6 147.5,171.5 152.5,171.0 157.5,170.0 162.5,168.7 165.6,167.5" fill="none" stroke="#000000" stroke-width="0.75" stroke-linejoin="round" stroke-linecap="round"/>
<polyline points="171.4,189.7 172.4,192.7" fill="none" stroke="#000000" stroke-width="2.2" stroke-linejoin="round" stroke-linecap="round"/>
<polyline points="170.8,176.6 170.8,178.5" fill="none" stroke="#000000" stroke-width="2.0" stroke-linejoin="round" stroke-linecap="round"/>
<polyline points="136.5,176.2 138.1,177.5" fill="none" stroke="#000000" stroke-width="2.2" stroke-linejoin="round" stroke-linecap="round"/>
<polyline points="203.0,171.5 201.1,176.0" fill="none" stroke="#ff8240" stroke-width="1.0" stroke-linejoin="round" stroke-linecap="round"/>
<polyline points="201.4,168.1 201.6,169.7" fill="none" stroke="#000000" stroke-width="1.4" stroke-linejoin="round" stroke-linecap="round"/>
</g>
<g fill="none" stroke="#555555" stroke-width="0.9" stroke-linejoin="round" stroke-linecap="round">
<polyline points="45.0,34.7 51.2,34.0 56.2,35.0 53.7,37.2 48.7,38.0 52.5,39.7 47.5,40.5 45.0,39.7"/>
<polyline points="84.9,34.0 89.9,33.0 94.9,34.0 91.2,35.0 86.2,34.7 84.9,34.0"/>
<polyline points="98.7,33.5 104.9,32.2 112.4,32.5 117.4,33.5 109.9,34.7 103.7,35.0 99.9,34.5 98.7,33.5"/>
<polyline points="45.0,54.7 50.0,53.4 56.2,52.9 60.0,53.9 63.7,55.9 68.7,57.2 73.7,58.4 77.5,60.9 75.0,63.4 70.0,62.9 66.2,61.4 65.0,63.4 68.7,65.4 72.5,65.9 76.2,64.7 79.9,62.2 82.4,59.7 84.9,57.9 87.9,58.9 90.4,57.2 93.7,56.4 96.2,57.9 99.9,57.2 104.9,55.9 108.7,55.4 111.2,53.9 112.4,56.4 117.4,57.2 121.1,55.9 122.4,50.9 125.4,48.0 128.6,49.0 129.9,53.4 132.4,57.2 131.1,60.4 127.4,62.2 129.9,58.4 131.1,54.7 132.9,52.2 136.1,50.9 139.4,52.2 142.4,50.4 144.9,48.0 149.8,46.5 154.8,45.5 159.8,43.5 164.8,42.2 169.8,41.0 174.8,40.5 179.8,39.7 184.8,40.5 189.8,42.2 194.8,43.5 197.3,45.5 192.3,47.2 186.0,48.0 192.3,46.5 199.8,47.2 205.0,48.0"/>
<polyline points="96.2,50.9 98.7,47.2 103.7,43.5 109.9,42.0 117.4,41.0 124.4,41.0 119.9,43.0 112.4,44.0 106.2,46.0 102.4,49.7 104.9,53.4 101.2,53.9 97.4,52.9 96.2,50.9"/>
<polyline points="160.3,34.7 164.8,32.5 169.8,33.0 174.8,35.5 181.0,37.2 177.3,39.0 171.1,38.0 166.1,37.0 162.3,36.0 160.3,34.7"/>
<polyline points="45.0,64.7 48.7,62.9 52.5,63.4 50.0,65.9 47.0,68.4 45.0,70.9"/>
<polyline points="45.0,75.9 50.0,73.9 56.2,73.4 61.2,71.9 65.0,72.9 62.5,74.7 57.5,75.4 52.5,75.9 48.7,77.9 50.5,79.7 47.5,80.9 45.0,79.7"/>
<polyline points="68.7,68.9 70.5,68.4 71.0,70.9 69.5,72.4 68.5,70.9 68.7,68.9"/>
<polyline points="57.5,108.9 59.5,104.6 62.5,101.4 65.0,100.4 67.5,102.1 70.0,100.9 72.5,99.6 75.5,99.6 73.0,101.4 71.2,102.9 73.7,104.6 77.5,106.4 79.9,108.9 78.7,110.9 75.0,110.4 70.0,109.9 65.0,109.6 60.5,110.4 57.5,108.9"/>
<polyline points="88.7,103.4 90.4,100.9 93.7,99.6 97.4,99.6 99.4,102.1 97.4,103.9 94.9,105.4 96.9,108.4 99.4,110.9 98.7,114.6 97.4,118.3 94.4,119.6 91.9,117.8 91.2,114.6 91.9,110.9 90.4,107.1 88.7,103.4"/>
<polyline points="106.7,103.4 107.9,101.1 110.4,100.6 112.6,102.1 112.4,104.6 110.4,106.1 107.9,105.9 106.7,103.4"/>
<polyline points="131.1,102.1 133.6,100.4 137.4,99.9 141.1,100.4 137.4,101.4 133.6,102.1 131.9,103.4"/>
<polyline points="180.5,90.4 183.5,88.4 187.3,85.9 189.8,82.9 191.0,82.2 189.3,85.9 186.0,88.9 182.3,90.9 180.5,90.4"/>
<polyline points="45.0,115.9 48.0,114.6 51.2,112.1 55.0,110.9 57.5,112.1 56.2,115.9 58.7,118.3 63.7,119.6 68.7,118.8 70.0,122.1 68.7,126.1"/>
<polyline points="45.0,120.8 48.7,122.1 52.5,123.3 55.0,126.1"/>
<polyline points="205.0,48.4 209.0,48.0 214.0,47.6 219.0,48.0 222.0,50.0 225.0,51.6 229.0,51.0 233.0,50.0 236.9,50.4 239.9,49.0 243.9,48.4 247.9,49.6 252.9,50.4 258.9,51.6 264.9,53.0 270.9,54.4 276.9,55.6 282.9,56.0 286.9,55.6 288.9,57.0 293.9,57.6 298.8,58.0 304.8,59.0 310.8,60.0 316.8,61.0 320.8,62.3 318.8,63.9 313.8,64.9 308.8,64.3 305.8,63.9 303.2,65.5 302.8,69.9 298.8,71.5 292.9,72.9 288.5,74.1 283.9,74.9 280.9,76.3 278.9,78.9 276.3,81.9 273.9,84.9 271.9,87.9 269.3,89.9 266.9,91.7"/>
<polyline points="266.9,91.7 265.9,88.9 265.9,85.9 267.3,82.3 269.3,78.9 271.9,75.5 274.9,72.9 277.9,70.9 279.3,68.9 273.9,69.9 268.9,71.9 264.9,72.9 261.9,73.9 257.3,75.1 252.9,75.5 247.9,76.3 243.9,77.9 238.9,79.9 235.0,82.3 232.0,84.3 234.0,85.9 236.9,86.9 239.3,87.9"/>
<polyline points="236.0,44.4 237.9,43.0 241.9,42.4 246.9,43.0 244.9,44.4 240.9,45.0 236.9,45.2 236.0,44.4"/>
<polyline points="250.9,44.0 253.9,43.6 257.3,44.4 254.9,45.2 251.9,45.0 250.9,44.0"/>
<polyline points="302.8,52.0 305.8,51.2 308.8,52.0 306.4,52.8 303.2,52.6 302.8,52.0"/>
<polyline points="333.0,55.6 328.8,56.0 325.8,57.0 327.8,58.4 330.8,59.6 333.0,60.0"/>
<polyline points="333.0,61.9 327.8,62.9 324.8,63.9 326.8,65.5 333.0,65.9"/>
<polyline points="319.8,67.1 321.4,66.5 323.2,67.5 321.2,68.1 319.8,67.1"/>
<polyline points="333.0,68.9 328.8,69.9 325.8,71.9 327.8,73.9 333.0,74.9"/>
<polyline points="325.0,57.9 328.0,56.5 331.0,55.0 335.0,53.4 340.0,52.6 344.0,52.0 349.0,53.0 355.0,54.0 360.9,54.6 366.9,55.4 372.9,56.5 376.9,56.0 381.9,55.0 386.9,54.6 389.9,54.0 392.9,55.0 396.9,56.0 401.9,56.5 406.9,56.0 410.9,56.5 414.9,57.9 418.8,58.5 423.8,57.9 428.8,58.5 433.8,57.9 438.8,56.9 442.8,56.0 445.8,57.9 449.8,56.9 453.0,57.9"/>
<polyline points="325.0,57.9 329.0,59.9 333.0,61.3 330.0,62.5 326.0,63.3 329.0,64.9 334.0,65.9 336.0,67.9 333.0,69.9 329.0,71.9 326.0,72.9 325.0,73.9"/>
<polyline points="325.0,74.5 330.0,74.5 333.0,75.9 336.0,77.3 339.0,78.5 342.0,77.3 345.0,75.3 348.0,73.9 351.0,72.5 353.0,71.9 356.9,72.5 361.9,73.3 365.9,74.5 369.9,75.3 373.9,77.3 377.3,79.9 380.9,83.3 384.9,86.9 388.9,90.9 392.9,93.9 396.5,95.9 398.5,97.9 395.3,100.9 395.3,104.9 395.9,113.1"/>
<polyline points="353.0,71.9 350.0,73.9 347.0,76.5 344.0,78.9 340.0,80.9 336.0,82.5 332.0,83.9 328.0,84.9 325.0,85.9"/>
<polyline points="394.9,48.6 397.9,47.0 402.9,47.4 405.9,49.0 403.9,51.4 399.9,52.6 395.9,52.0 394.5,50.0 394.9,48.6"/>
<polyline points="405.9,50.0 410.9,48.6 416.9,49.4 422.8,48.6 426.8,50.6 429.8,53.0 426.8,55.0 422.8,56.0 417.9,55.0 412.9,54.6 408.9,54.0 406.5,52.0 405.9,50.0"/>
<polyline points="395.9,42.0 400.9,40.6 406.9,41.0 410.9,40.0 415.9,39.4 419.8,40.6 416.9,42.6 411.9,43.4 406.9,44.0 401.9,43.4 397.9,44.0 395.9,42.0"/>
<polyline points="424.8,37.4 430.8,36.6 435.8,38.0 439.8,40.0 436.8,42.0 431.8,41.4 427.8,40.0 424.8,37.4"/>
<polyline points="442.8,33.0 447.8,32.0 453.0,32.6"/>
<polyline points="444.8,37.0 449.8,37.4 453.0,39.0"/>
<polyline points="432.8,45.0 437.8,44.0 442.8,45.0 444.8,48.0 441.8,50.0 436.8,49.0 433.8,47.0 432.8,45.0"/>
<polyline points="444.8,51.0 448.8,50.0 453.0,52.0"/>
<polyline points="436.8,55.0 440.8,54.6 443.8,56.5 440.8,58.5 437.2,57.3 436.8,55.0"/>
<polyline points="394.9,61.9 397.9,60.5 401.9,60.9 404.9,62.5 402.9,63.9 398.9,63.9 395.9,63.3 394.9,61.9"/>
<polyline points="407.9,71.3 410.9,69.9 414.9,68.9 418.8,68.5 415.9,70.5 411.9,71.9 408.9,72.5 407.9,71.3"/>
<polyline points="416.9,75.9 419.8,74.9 422.4,75.3 419.8,76.5 416.9,75.9"/>
<polyline points="479.0,38.6 484.9,36.0 490.9,33.4 497.9,31.0 506.9,30.0 516.9,29.0 526.9,28.0 536.9,28.0 546.8,28.6 556.8,29.4 564.8,30.6 572.8,32.0 578.4,33.0 573.8,34.6 569.8,36.0 566.8,38.0 567.8,41.0 566.8,44.0 563.8,47.0 560.8,50.0 557.8,53.0 554.8,55.0 550.8,56.5 545.9,57.9 540.9,59.9 536.9,61.3 532.9,62.9 530.9,65.9 529.9,69.9 527.9,73.3 524.9,73.9 520.9,72.9 516.9,70.5 513.9,66.9 511.3,62.9 509.9,58.9 510.9,56.0 508.9,53.0 507.9,49.0 505.9,46.0 501.9,43.4 496.9,42.0 491.9,42.0 486.9,42.6 483.0,41.0 479.0,38.6"/>
<polyline points="508.9,53.0 512.9,52.0 514.9,55.0 512.9,56.9 509.9,56.5"/>
<polyline points="453.0,33.0 459.0,32.0 465.0,31.0 473.0,30.6 481.0,31.0 488.9,32.0 496.9,31.0 492.9,33.4 486.9,35.0 481.0,36.6 475.0,38.0 471.0,40.0 465.0,41.0 459.0,42.0 453.0,42.6"/>
<polyline points="453.0,37.0 459.0,36.6 463.0,38.0 457.0,39.4 453.0,39.0"/>
<polyline points="558.4,62.5 561.8,61.3 566.8,61.9 571.8,61.3 575.2,62.9 574.4,65.3 570.8,66.9 565.8,67.5 561.8,66.5 559.8,64.5 558.4,62.5"/>
<polyline points="615.1,35.3 619.5,33.9 625.5,34.5 629.1,33.9 629.1,39.9 625.5,41.3 621.5,39.9 617.5,37.9 615.1,35.3"/>
<polyline points="629.1,54.8 625.5,55.8 621.5,57.2 618.5,58.8 616.5,60.8 613.6,63.8 610.6,66.7 607.6,68.7 605.6,71.1 606.0,74.7 608.6,77.7 611.6,78.3 614.6,76.3 616.5,77.7 617.1,80.7 615.5,83.6 618.5,84.6 621.5,83.6 624.5,82.7 627.5,81.7 629.1,80.7"/>
<polyline points="629.1,67.7 626.5,68.7 625.5,71.7 627.5,73.7 629.1,74.3"/>
<polyline points="610.6,80.7 612.6,79.7 614.0,81.7 613.2,84.2 611.2,83.6 610.6,80.7"/>
<polyline points="587.7,77.7 590.7,77.1 593.3,78.7 592.7,81.7 594.7,83.6 596.7,86.2 599.2,88.2 600.0,90.6 597.7,92.2 593.7,92.6 589.7,92.2 588.7,90.6 591.3,89.0 589.7,86.6 590.7,84.2 588.7,81.7 587.7,79.7 587.7,77.7"/>
<polyline points="581.7,85.6 584.7,83.6 587.7,84.6 588.7,87.6 586.7,90.2 583.3,91.0 581.4,89.0 581.7,85.6"/>
<polyline points="615.5,83.6 611.6,85.6 607.6,87.0 603.6,88.6 600.6,91.0 597.7,93.6 593.7,94.6 590.1,93.6 588.7,95.0 592.1,96.6 594.7,98.2 595.7,101.5 595.3,105.5 592.7,106.5 587.7,106.1 583.7,106.5 582.7,109.5 582.1,112.7"/>
<polyline points="597.7,112.7 599.6,109.5 603.6,106.9 608.6,105.5 611.6,106.5 613.6,109.5 612.6,112.7"/>
<polyline points="617.1,103.5 619.5,102.5 622.5,104.5 625.5,107.5 628.5,110.5 629.1,112.7"/>
<polyline points="557.9,62.8 560.9,61.8 565.8,62.2 570.8,61.4 574.8,62.8 575.4,64.8 572.8,66.4 567.8,67.3 562.9,67.1 559.9,65.8 557.9,62.8"/>
<polyline points="540.0,28.6 548.0,28.0 555.9,28.6 563.9,30.0 571.8,31.4 577.8,32.6 572.8,33.9 568.8,35.3 565.8,37.9 566.8,40.9 565.8,43.9 567.8,44.9 563.9,47.9 560.9,50.4 557.9,52.8 554.9,54.8 550.9,56.4 547.0,57.8 543.0,59.8 540.0,62.4"/>
<polyline points="549.9,29.4 555.9,30.0 561.9,30.6 563.9,32.0 559.9,33.0 555.9,32.0"/>
<polyline points="585.3,69.5 586.9,69.5 586.9,70.5 585.3,70.5 585.3,69.5"/>
<polyline points="400.0,121.0 403.0,124.0 406.0,128.0 409.0,132.9 411.0,136.9 414.0,140.9 417.0,143.9 420.0,146.3 423.0,147.9 426.0,150.9 430.0,154.9 434.9,158.3 440.9,160.9 446.9,163.5 452.3,166.3 456.9,169.5 459.9,172.9 462.9,175.5 466.9,176.9 468.9,177.5 469.9,179.9 469.5,183.9 468.9,188.1"/>
<polyline points="410.0,130.0 412.4,129.6 414.4,132.9 416.0,136.9 418.4,140.9 420.0,144.9 418.0,144.3 415.6,140.9 413.6,137.5 411.6,133.9 410.0,130.0"/>
<polyline points="499.8,100.0 495.8,103.0 490.9,105.0 485.9,107.0 481.9,110.0 478.9,113.0 474.9,115.0 472.9,119.0 470.9,123.0 467.9,126.0 464.9,129.6 463.9,132.9 465.5,136.9 467.5,139.9 466.9,141.9 464.9,139.9 462.9,136.9 459.9,133.9 455.9,132.3 451.9,132.9 447.9,133.5 443.9,133.9 440.9,135.9 438.9,139.9 438.3,144.9 439.5,149.9 441.9,153.5 445.5,155.5 448.9,154.9 451.5,152.3 452.9,149.5 455.5,149.5 454.9,152.3 453.5,155.9 453.9,159.5 456.9,160.3 459.9,161.5 462.3,163.9 463.5,167.9 464.9,171.5 466.9,173.9 469.5,175.5 472.3,172.9 474.9,170.9 477.9,169.5 480.9,168.3 483.9,168.9 487.9,169.9 491.9,170.9 495.8,170.3 498.8,171.9 501.8,174.9 504.8,177.9 508.8,179.9 512.8,182.3 515.8,184.9 517.8,188.1"/>
<polyline points="459.9,147.9 462.9,146.3 466.9,146.9 470.9,148.3 474.9,149.9 476.9,151.5 473.9,151.5 469.9,150.3 465.9,149.5 462.3,148.9 459.9,147.9"/>
<polyline points="476.9,154.3 479.9,152.9 483.9,153.5 486.3,154.9 483.9,156.3 479.9,156.3 477.5,155.5 476.9,154.3"/>
<polyline points="470.3,155.5 472.9,155.3 473.5,156.3 470.9,156.5 470.3,155.5"/>
<polyline points="487.9,155.3 490.3,155.3 490.3,156.3 487.9,156.3 487.9,155.3"/>
<polyline points="469.9,138.9 470.9,140.9"/>
<polyline points="470.3,142.9 471.5,144.3"/>
<polyline points="497.4,158.9 497.8,159.9"/>
<polyline points="497.8,161.9 498.4,163.5"/>
<polyline points="490.9,105.6 494.8,103.6 498.8,102.0 500.8,101.0"/>
<polyline points="479.9,168.9 481.5,167.9 482.3,170.3 481.5,172.9 480.3,171.5 479.9,168.9"/>
<polyline points="582.9,105.0 582.3,109.0 581.9,113.0 583.5,117.0 585.9,119.4 588.3,120.0 590.9,119.0 593.9,118.0 596.3,116.0 597.5,113.0 599.9,110.6 602.9,108.6 605.8,107.0 607.8,105.0"/>
<polyline points="588.3,120.6 586.9,123.0 584.9,125.0 582.9,127.4 581.5,130.0 580.9,133.0 578.9,136.0 576.9,137.9 574.9,139.3 573.9,141.9 572.9,144.9 571.5,147.9 570.3,150.5 569.5,152.9 569.9,155.9 570.9,158.9 570.3,161.9 570.9,164.9 572.3,167.9 573.9,170.9 575.5,173.9 576.9,176.5 578.9,178.9 581.5,180.9 584.3,181.9 587.9,181.9 591.9,181.3 595.9,180.5 599.5,179.3 602.3,178.5 604.8,179.3 607.4,180.9 609.8,182.5 612.2,183.9 613.4,186.9 612.8,189.9 612.2,193.1"/>
<polyline points="588.3,120.6 591.9,121.0 595.9,120.0 599.9,119.4 603.8,119.0 607.8,118.6 611.8,118.0 613.8,120.0 613.4,123.0 615.8,125.0 618.8,126.6 621.8,128.0 624.8,129.4 627.8,130.6 629.8,132.0"/>
<polyline points="610.8,109.0 612.8,107.0 613.8,110.0 612.8,114.0 610.8,113.0 610.8,109.0"/>
<polyline points="613.8,105.0 616.8,107.0 619.8,109.4 622.8,112.0 625.8,114.0 623.8,115.0 620.8,113.0 617.8,110.6 614.8,108.0"/>
<polyline points="618.8,117.0 621.8,116.6 623.8,118.0 621.4,119.0 618.8,118.2 618.8,117.0"/>
<polyline points="600.9,113.4 602.3,113.0 602.5,114.4 601.1,114.6 600.9,113.4"/>
<polyline points="569.9,136.0 571.9,135.4 572.3,136.5"/>
<polyline points="574.3,135.0 575.5,136.0"/>
<polyline points="618.8,163.9 620.8,163.3 621.8,165.3 620.2,166.5 618.8,164.9 618.8,163.9"/>
<polyline points="510.0,180.9 512.4,181.9 514.4,184.9 515.6,188.9 517.0,191.9 520.0,193.1"/>
<polyline points="45.0,127.0 49.0,128.0 53.0,129.6 57.0,130.4 61.0,131.0 65.0,130.4 68.0,130.0 69.4,128.0 70.6,125.0 71.0,121.0 70.0,119.6 67.0,120.0 64.0,121.0 61.0,119.0 58.0,117.6 55.0,116.0 52.0,114.0 50.0,112.0 48.0,113.0 49.0,116.0 47.0,118.0 45.0,117.0"/>
<polyline points="64.0,122.4 67.0,121.6 67.4,123.0 65.0,123.6 64.0,122.4"/>
<polyline points="51.0,121.6 55.0,122.4"/>
<polyline points="65.0,132.9 67.0,136.9 69.0,140.9 71.0,144.9 73.4,149.5 75.4,153.5 77.3,157.5 79.3,160.9 81.3,164.3 82.5,166.9 83.3,169.5 84.9,170.3 87.9,169.9 91.9,168.9 95.9,167.9 97.3,169.5 94.9,172.9 92.9,175.9 91.3,179.9 89.3,183.9 87.3,188.1"/>
<polyline points="66.0,132.3 68.6,135.9 70.6,139.9 73.0,144.3 75.0,148.9 76.9,152.9 79.3,156.9 81.3,160.3 83.3,163.9 84.5,165.9 86.9,165.5 89.9,164.3 93.9,162.9 97.3,160.9 100.5,158.9 103.3,156.3 105.3,153.5 107.3,150.9 108.5,147.9 109.3,145.5 106.9,142.9 103.9,140.9 102.9,138.3 100.9,138.9 97.9,137.5 94.9,134.9 92.9,132.9 91.3,131.9 90.5,133.9 91.9,136.9 93.9,139.9 95.9,142.3 98.5,142.9 100.9,141.9 103.3,140.9 105.9,142.3 108.9,143.9 112.9,143.5 116.9,142.3 119.9,142.9 121.9,144.9 124.5,146.9 126.5,146.3 128.9,147.9 129.9,150.9 130.9,154.9 131.9,158.9 132.9,162.9 134.5,166.9 135.9,170.9 137.3,174.3 138.8,176.9 140.4,175.5 141.8,171.9 142.8,167.9 143.8,163.9 144.8,159.9 146.8,156.9 149.8,153.9 152.8,151.5 155.8,149.5 158.8,147.9 160.8,146.9 162.8,149.9 164.4,153.9 165.8,157.9 167.2,160.9 169.2,161.9"/>
<polyline points="140.4,173.9 142.8,172.9 144.0,175.9 142.8,178.9 140.8,177.9 140.4,173.9"/>
<polyline points="131.3,179.9 132.1,178.9 132.5,181.9 132.1,185.5 131.3,183.9 131.3,179.9"/>
<polyline points="98.5,165.9 101.3,165.9 101.3,167.9 98.5,167.9 98.5,165.9"/>
<polyline points="204.9,118.4 206.9,118.0 209.5,117.6 210.5,120.0 209.5,122.4 208.3,125.0"/>
<polyline points="194.9,188.1 197.9,184.9 201.5,182.9 203.9,181.9 205.9,183.9 206.9,188.1"/>
<polyline points="171.6,175.5 172.0,176.9"/>
<polyline points="172.0,178.3 172.4,179.9"/>
<polyline points="208.0,125.0 209.3,126.9 210.5,129.4 209.9,131.9 208.4,134.4 208.0,136.9 206.8,139.4 205.2,141.5 203.1,143.5 200.6,145.0 198.1,146.2 195.6,147.2 193.1,148.1 190.6,149.0 188.1,149.3 185.6,150.6 184.0,152.7 183.5,155.2 184.5,157.4 186.5,159.3 188.5,161.2 190.0,163.4 190.3,165.9 189.7,168.1 188.2,169.9 186.5,171.4 184.7,172.9 183.2,173.9 182.5,172.2 181.5,169.9 180.0,168.1 178.2,166.7 176.2,165.6 174.7,164.9 174.0,166.8 174.4,169.3 175.0,172.2 176.0,174.9 177.2,177.4 178.7,180.0"/>
<polyline points="188.1,151.2 190.6,150.6 191.8,152.5 191.2,155.0 189.3,155.6 188.1,154.0 188.1,151.2"/>
<polyline points="160.0,146.8 161.9,148.1 163.7,150.6 165.0,153.7 165.6,156.8 166.2,159.3 168.1,158.4 170.0,158.1 171.5,159.9 171.9,163.1 171.5,166.2 171.0,169.3 171.5,172.4 172.2,174.9 173.1,177.4 174.0,180.0"/>
<polyline points="208.0,143.1 209.3,142.2 210.5,143.7 209.9,146.5 208.7,148.5 207.7,146.8 207.4,144.7 208.0,143.1"/>
<polyline points="208.0,155.6 209.9,154.7 211.4,156.0 211.2,158.7 210.2,161.2 211.2,163.1 213.0,164.3 214.9,165.6 213.7,166.2 211.8,165.6 209.9,164.7 208.7,162.4 207.7,159.9 207.4,157.4 208.0,155.6"/>
<polyline points="210.5,166.2 212.4,166.8 214.3,168.1 216.2,168.7 216.8,171.2 215.5,173.0 213.7,172.4 212.4,170.6 211.2,168.7 210.5,166.2"/>
<polyline points="213.0,173.7 215.5,173.0 217.7,174.3 218.4,176.8 216.8,178.4 214.7,178.0 213.4,176.2 213.0,173.7"/>
<polyline points="201.2,174.9 203.1,173.0 204.9,171.2 205.9,171.4 203.9,173.7 202.2,175.5 201.2,174.9"/>
<polyline points="87.9,185.0 84.9,188.0 81.9,191.0 79.3,194.0 77.3,197.0 76.0,200.6 75.4,204.0 76.5,207.0 77.9,210.0 78.5,213.0 77.9,216.9 76.9,220.5 74.6,222.9 72.0,225.9 70.0,228.5 68.6,231.3 69.4,234.9 70.0,238.5 68.0,240.9 66.0,242.9 65.0,245.9 64.6,248.9 63.0,251.9 60.6,254.5 57.4,256.5 54.0,257.7 50.0,258.1 45.0,258.5"/>
<polyline points="92.5,215.0 93.9,217.9 93.5,221.9 92.5,225.9 91.3,229.9 89.9,233.9 88.5,237.9 86.9,240.9 84.9,241.3 82.9,238.9 82.1,234.9 82.9,230.5 83.3,226.9 84.9,223.9 86.9,221.9 89.3,219.9 90.9,216.9 92.5,215.0"/>
<polyline points="63.4,191.4 65.0,190.6 67.0,191.4 67.4,194.0 66.0,196.0 64.0,195.4 63.0,193.4 63.4,191.4"/>
<polyline points="59.4,198.0 60.2,201.0 61.4,205.0 62.6,208.0 61.8,207.4 60.6,204.0 59.4,200.6 59.4,198.0"/>
<polyline points="67.4,210.0 68.2,213.0 69.0,216.9 69.8,219.3 68.8,217.9 67.8,214.6 67.4,210.0"/>
<polyline points="101.9,232.5 102.9,232.1"/>
<polyline points="105.3,230.9 106.1,230.5"/>
<polyline points="197.0,234.9 198.6,232.9 202.0,231.5 205.9,230.3 208.9,228.3 210.9,225.5 212.9,222.9 215.3,220.3 217.9,218.9 220.9,218.9 222.9,216.9 224.5,213.9 226.9,213.5 228.5,215.5 230.9,215.9 232.9,214.9 233.9,217.9 234.9,220.9 236.9,222.9 239.9,224.9 241.9,223.5 242.9,219.9 243.3,215.9 243.9,212.9 245.3,214.9 246.5,217.9 247.9,220.9 249.3,224.3 251.3,227.9 253.9,231.5 256.5,234.9 258.9,237.9 260.9,241.5 261.9,244.9 262.3,248.9 261.3,252.9 259.9,256.9 257.9,259.9 255.9,262.9 252.9,264.9 249.9,266.1"/>
<polyline points="241.9,266.1 239.9,263.9 237.9,260.9 236.5,257.9 234.9,255.9 232.9,254.9 229.9,253.9 226.9,253.5 222.9,253.5 218.9,254.3 214.9,255.5 210.9,256.9 206.9,258.3 203.0,259.5 200.6,258.9 199.4,255.9 199.0,251.9 198.0,247.9 197.0,243.9 196.6,239.9 197.0,234.9"/>
<polyline points="225.3,193.0 227.9,192.0 230.9,193.6 232.9,196.0 234.9,195.0 237.9,194.4 241.9,195.6 245.9,197.0 249.9,199.0 252.9,201.0 254.9,203.0 256.9,202.0 258.9,200.0 260.9,198.4 259.9,200.4 257.9,203.0 255.9,205.0 252.9,206.0 253.9,208.0 255.9,210.3 256.9,211.9 253.9,210.3 250.9,208.0 247.9,207.0 245.3,208.4 242.9,209.5 239.9,208.0 237.3,206.0 234.9,203.6 232.5,201.6 230.9,199.6 228.9,198.0 226.9,196.4 225.3,193.0"/>
<polyline points="190.0,189.0 192.0,186.0 194.6,183.6 197.4,181.0 200.0,179.0 203.0,178.0 204.9,180.4 205.9,184.0 204.9,188.0 204.0,191.0 202.6,194.0 200.6,197.0 198.0,198.0 195.4,197.6 193.0,196.4 191.0,194.0 190.0,189.0"/>
<polyline points="207.3,189.0 209.9,188.0 212.9,187.6 215.3,188.4 212.9,189.6 210.5,190.4 211.9,193.0 212.9,196.0 211.9,199.0 210.5,197.0 209.3,194.0 208.5,197.0 207.3,200.0 206.5,197.0 206.9,193.0 207.3,189.0"/>
<polyline points="173.0,188.0 176.0,191.0 179.0,195.0 182.0,199.0 184.6,203.0 186.0,206.0 190.0,207.0 195.0,207.6 200.0,208.4 204.9,209.0 207.9,209.5 204.9,210.3 200.0,209.9 195.0,209.2 190.0,208.4 186.0,207.6 187.4,205.0 186.6,201.0 184.6,197.0 182.0,193.0 179.0,189.0 176.0,185.0 173.0,182.0"/>
<polyline points="209.9,209.9 212.9,209.5 215.9,210.3 212.9,211.1 209.9,209.9"/>
<polyline points="213.9,211.5 216.5,209.9 218.9,208.4 217.9,210.3 215.3,211.9 213.9,211.5"/>
<polyline points="219.3,188.0 220.5,187.0 220.9,190.0 220.1,193.0 219.3,191.0 219.3,188.0"/>
<polyline points="217.3,197.6 219.9,197.0 221.9,198.0 219.3,198.6 217.3,197.6"/>
<polyline points="222.9,197.6 224.5,197.2"/>
<polyline points="226.5,205.0 227.3,203.6"/>
<polyline points="230.9,203.0 231.7,202.0"/>
<polyline points="262.9,201.6 265.3,204.0"/>
<polyline points="271.8,209.5 275.8,211.9"/>
<polyline points="283.2,219.9 284.8,222.9"/>
<polyline points="279.2,230.3 283.2,233.9"/>
<polyline points="300.4,225.5 301.0,226.3"/>
<polyline points="292.8,258.9 295.8,261.9 297.8,264.9 298.8,266.1"/>
<polyline points="245.9,266.1 247.9,265.5 249.9,266.1"/>
<polyline points="471.0,178.0 470.4,183.0 468.0,188.0 466.4,192.0 466.0,197.0 465.6,200.0 467.0,204.0 469.0,208.0 471.0,211.9 472.9,215.9 475.5,219.9 478.3,222.9 480.9,225.5 482.9,227.9 483.5,231.9 482.3,235.9 481.5,239.9 481.9,244.9 481.5,249.9 480.3,254.9 478.9,259.9 477.5,263.9 476.3,266.1"/>
<polyline points="501.9,178.0 504.9,179.6 508.9,180.4 511.9,181.6 514.3,184.0 516.3,187.6 516.9,190.4 514.3,192.4 515.5,194.0 518.3,192.4 521.9,193.6 524.9,195.6 527.9,197.0 531.5,197.0 534.8,198.4 537.8,200.4 540.2,202.4 541.4,206.0 540.8,209.5 538.8,212.3 536.8,215.5 534.8,218.9 533.8,222.9 533.5,226.9 532.9,230.9 531.5,233.9 528.9,235.9 525.5,236.9 522.3,238.3 519.9,240.3 518.3,243.5 517.5,246.9 516.3,249.9 514.3,252.9 512.3,255.9 509.9,258.3 506.9,259.5 503.5,258.9 502.3,257.9 503.9,260.9 505.5,263.9 504.3,266.1"/>
<polyline points="576.9,178.0 579.9,179.6 582.9,181.0 586.9,181.6 590.9,181.0 594.9,180.4 598.9,179.6 602.9,179.0 605.9,180.0 608.4,182.0 611.2,183.6 612.8,186.0 612.4,189.0 611.8,192.0 612.8,195.0 614.8,197.0 616.4,199.6 617.2,203.0 618.4,207.0 618.8,210.9 618.4,214.9 617.2,218.9 616.4,222.9 617.2,226.9 618.8,230.3 620.4,233.9 621.2,237.9 622.4,241.9 623.8,245.9 625.2,249.5 626.8,252.9 628.4,256.3 629.4,258.9"/>
<polyline points="45.0,328.6 50.0,327.9 56.2,327.4 62.5,326.9 67.0,325.4 70.0,326.9 75.0,327.4 77.5,325.4 82.4,323.7 87.4,322.9 92.4,322.4 94.9,319.9 99.9,319.4 104.9,321.2 109.9,322.4 116.1,322.9 122.4,323.2 125.4,324.4 126.1,327.9 129.9,327.4 134.9,326.9 139.9,324.9 144.9,322.9 151.1,321.4 157.3,320.9 164.8,320.9 172.3,320.7 179.8,319.4 184.8,320.4 189.8,321.4 194.8,319.4 199.8,319.9 205.0,321.4"/>
<polyline points="124.4,287.0 126.4,287.5 124.9,288.0 124.4,287.0"/>
<polyline points="205.0,321.2 211.2,320.7 217.5,319.9 221.2,321.4 225.0,319.9 231.2,319.9 237.5,320.4 243.7,321.4 249.9,322.9 256.2,323.9 262.4,325.4 268.7,326.4 273.6,327.4 277.4,327.9 282.4,328.9 287.4,329.9 289.9,331.4 288.6,333.6 284.9,334.9 281.1,336.1 277.4,337.9 276.1,340.4 278.6,342.4 276.1,344.4 272.9,346.1 272.4,348.6 274.4,350.6 278.6,351.9 283.6,352.9 289.9,353.6 297.4,354.4 304.9,354.9 312.3,355.6 319.8,356.1 327.3,356.9 334.8,357.4 342.3,357.9 349.8,358.1 356.0,358.4 359.8,357.9 357.3,356.9 352.3,356.1 348.5,354.9 346.8,352.4 347.8,349.9 352.3,348.6 357.3,347.9 361.0,346.9 354.8,346.1 348.5,345.4 344.8,344.9 341.0,343.6 339.8,341.9 344.8,341.1 351.0,340.4 356.0,339.9 361.0,339.4 365.0,338.6"/>
<polyline points="282.4,341.9 286.1,341.4 287.9,342.4 284.4,342.9 282.4,341.9"/>
<polyline points="331.1,344.9 334.3,344.4 337.3,346.1 336.1,347.9 332.3,347.4 331.1,344.9"/>
<polyline points="235.0,260.0 237.5,262.0 241.2,263.7 243.7,266.2 247.4,265.5 251.2,267.0 254.9,265.0 256.9,261.2 257.4,260.0"/>
<polyline points="247.4,270.5 250.4,270.0 252.9,271.2 252.4,274.5 250.4,276.5 248.4,275.0 247.4,270.5"/>
<polyline points="293.6,260.0 296.1,262.5 299.4,263.7 302.4,264.5 301.9,267.5 299.4,270.0 297.4,272.0 295.4,270.0 296.9,267.0 294.9,263.7 293.6,260.0"/>
<polyline points="295.4,270.5 293.6,273.7 291.1,276.2 287.9,278.7 284.9,281.2 282.9,282.5 284.4,283.7 287.4,282.0 291.1,280.0 294.4,277.0 296.9,273.7 297.4,272.0"/>
<polyline points="309.8,276.2 310.8,277.0"/>
<polyline points="365.0,338.6 371.2,337.9 377.5,336.9 383.7,337.4 388.7,339.4 392.0,337.9 395.0,334.9 398.7,333.9 402.4,335.4 407.4,334.9 411.2,336.9 414.9,334.9 418.7,336.1 422.4,335.4 427.4,336.9 431.9,334.9 433.6,332.4 438.6,331.9 442.4,332.9 447.4,333.4 454.9,333.6 462.4,333.9 468.6,333.4 473.6,331.9 476.1,327.9 479.3,326.9 482.3,328.6 484.8,326.9 486.8,322.9 489.8,321.9 493.6,319.4 497.3,317.4 502.3,315.4 507.8,314.4 504.8,316.2 499.8,317.9 495.3,319.9 492.3,322.9 494.8,325.4 497.3,328.6 499.3,332.4 498.5,336.1 495.3,338.6 491.1,340.4 487.8,341.4 494.8,341.9 502.3,342.4 509.8,343.6 517.3,344.9 525.0,345.6"/>
<polyline points="473.6,331.9 477.3,333.6 482.3,334.4 486.8,332.9 488.6,329.9 486.1,327.4"/>
<polyline points="498.5,312.9 501.8,312.4 503.5,313.2 500.3,313.7 498.5,312.9"/>
<polyline points="476.1,270.0 476.8,273.7 475.3,277.5 474.3,282.0 474.8,286.2 476.1,290.0 477.3,293.7 480.3,296.2 483.6,297.9 487.3,298.7 491.1,297.9 488.6,296.2 485.3,294.9 484.3,292.0 486.1,288.7 487.8,285.0 489.3,281.2 491.1,277.5 492.8,273.7 494.8,270.5 498.5,268.0 501.8,266.2 504.8,263.7 506.0,261.2 504.8,260.0"/>
<polyline points="478.6,293.7 482.3,294.4 486.1,295.4 484.8,297.4 480.3,296.9 478.6,293.7"/>
<polyline points="498.5,292.0 501.0,291.2 503.5,292.0 501.8,293.2 499.3,293.0 498.5,292.0"/>
<polyline points="522.3,309.2 524.3,309.4"/>
<polyline points="488.5,341.4 496.0,341.9 503.5,342.9 511.0,343.9 518.4,344.9 525.9,345.4 533.4,345.1 540.9,343.4 548.4,341.1 555.9,338.9 563.4,336.4 570.9,334.4 577.1,332.9 579.6,330.4 583.3,331.1 587.1,329.4 590.8,330.4 594.6,328.6 598.3,330.4 603.3,328.6 609.6,327.9 617.0,327.9 624.5,328.1 630.3,328.1"/>
<polyline points="535.4,296.7 537.9,297.4 539.7,298.2 537.2,297.9 535.4,296.7"/>
<polyline points="234.0,85.0 235.0,86.0 237.9,87.0 239.9,89.0 240.7,92.0 239.9,95.0 238.4,98.0 236.4,101.0 234.5,103.5 232.5,105.5 230.0,107.0 227.5,106.5 226.0,107.5 224.0,109.5 222.0,111.8 220.0,113.5 219.0,115.0 220.0,116.7 221.0,118.9 221.5,120.9 221.0,122.7 219.5,123.7 218.0,122.9 217.2,120.9 216.8,118.9 216.0,116.7 215.0,115.0 214.0,114.0 212.5,114.5 211.0,115.0 210.0,113.5 209.5,112.0 208.5,111.5 207.0,113.0 206.0,114.0 205.0,113.5"/>
<polyline points="241.4,86.0 241.7,89.0 242.1,92.0 242.4,95.0 242.9,98.0 243.4,100.5 244.1,100.5 244.7,98.0 244.9,95.0 244.7,92.0 244.1,89.0 243.4,86.0 241.4,86.0"/>
<polyline points="242.4,103.5 243.9,102.5 245.9,102.2 247.9,103.0 249.9,104.5 251.4,105.5 249.9,106.5 247.9,107.5 245.9,108.2 244.4,109.0 242.9,108.5 241.9,107.0 241.4,105.0 242.4,103.5"/>
<polyline points="243.4,110.0 244.1,112.0 244.4,114.0 243.9,116.0 243.4,117.9 242.9,119.9 242.7,121.9 241.9,123.4 240.9,124.4 239.9,125.4 238.4,125.9 236.7,125.7 235.0,126.1 233.0,126.7 231.0,127.4 229.0,128.1 227.2,128.7 226.0,129.0"/>
<polyline points="243.4,110.0 242.4,111.2 241.4,113.0 240.4,115.0 239.4,116.9 237.9,118.9 236.2,120.4 234.5,121.4 232.5,122.7 230.5,123.7 228.5,124.4 226.5,124.9 224.5,125.7 223.0,126.7 222.5,128.4 223.5,129.4 225.0,128.9"/>
<polyline points="251.7,104.0 252.7,103.0"/>
<polyline points="253.7,102.0 254.7,101.0"/>
<polyline points="255.7,100.0 256.7,98.8"/>
<polyline points="458.5,61.8 455.4,65.0 451.5,67.3 447.6,69.6 444.5,72.0 443.4,75.1 445.0,77.4 448.4,79.0 452.3,80.2 456.2,81.3 460.1,82.4 463.2,84.5 464.3,87.6 466.3,89.9 468.7,90.7 469.9,87.6 469.5,83.7 471.0,80.9 471.8,77.4 471.5,74.3 470.6,71.2 471.8,69.6 474.9,69.3 478.8,70.4 481.9,72.0 485.1,74.0 487.4,76.2 489.7,76.7 491.8,74.3 493.3,73.5 495.2,76.2 497.1,79.0 499.1,81.3 501.4,83.4 503.8,85.6 505.8,88.0 506.9,90.7 504.9,92.3 502.2,93.0 499.1,93.8 496.0,94.6 492.9,95.4 489.7,96.2 487.1,97.4 484.6,99.0 482.4,100.1 485.1,99.3 488.2,98.5 491.3,99.0 494.4,100.1 492.4,101.6 489.7,102.7 486.6,104.0 484.0,105.5 482.4,107.9 483.5,108.8"/>
<polyline points="506.9,90.7 509.2,93.8 511.1,96.9 510.5,100.1 508.5,99.0 506.1,97.7 504.3,95.4 503.0,93.4"/>
<polyline points="450.7,50.9 453.9,48.6 457.8,47.5 462.4,47.0 467.1,47.8 471.8,49.0 476.5,50.9 481.2,52.8 485.1,54.8 488.2,56.8 486.6,58.7 482.7,57.9 479.6,56.8 478.0,58.7 481.2,60.3 485.1,59.5 489.0,58.7 492.9,59.5 496.8,61.1 497.5,63.1 495.2,64.2 492.1,63.4 489.0,65.0 490.5,67.3 489.0,69.3 485.5,68.9 481.9,67.8 478.0,66.8 474.1,66.2 470.6,65.0 471.8,63.1 475.7,61.8 478.8,60.3 476.5,58.7 473.4,60.0 470.2,58.7 467.1,56.4 464.0,55.3 462.4,57.2 464.8,59.5 463.2,61.5 460.1,60.6 457.8,58.4 455.4,55.6 452.3,53.7 450.7,50.9"/>
<polyline points="457.0,61.8 459.3,61.1 461.7,63.1 463.2,65.3 461.2,66.8 458.5,65.7 457.0,63.4 457.0,61.8"/>
<polyline points="429.7,48.6 433.6,47.5 438.3,48.1 440.6,50.1 438.3,52.2 434.4,52.5 431.2,51.2 429.7,48.6"/>
<polyline points="425.0,51.7 428.1,53.3 431.2,55.6 434.4,57.5 432.0,58.4 428.1,57.2 425.0,55.6"/>
<polyline points="439.8,55.6 442.2,54.8 444.0,56.8 442.5,58.7 440.3,57.9 439.8,55.6"/>
<polyline points="442.2,43.1 446.8,42.3 452.3,42.8 456.2,44.4 453.9,45.9 450.0,45.5 446.1,45.0 442.2,43.1"/>
<polyline points="433.6,86.8 435.1,86.5 437.5,88.4 439.8,90.7 440.6,92.7 439.0,92.3 437.2,90.7 435.1,89.1 433.6,86.8"/>
<polyline points="430.5,78.2 431.6,77.4 432.0,79.8 430.9,81.3"/>
<polyline points="448.1,100.1 450.7,98.0 453.9,96.2 457.0,95.4 459.3,96.9 461.2,99.3 459.3,100.1 457.0,99.0 454.6,99.6 452.3,100.8 450.0,101.2 448.1,100.1"/>
<polyline points="455.4,102.4 457.0,101.2 458.5,102.4 458.1,105.5 457.0,107.9 455.9,105.5 455.4,102.4"/>
<polyline points="460.1,101.6 462.4,100.8 465.2,101.6 467.1,103.2 465.9,105.2 463.7,104.7 462.1,106.3 460.9,104.3 460.1,101.6"/>
<polyline points="464.8,107.4 467.9,106.3 471.0,105.5 473.4,104.7 472.6,106.3 469.5,107.4 466.3,108.3"/>
<polyline points="336.8,147.4 338.1,148.1"/>
<polyline points="339.9,148.1 342.4,148.7 344.9,150.6 347.2,153.1 346.8,154.9 344.3,154.3 341.8,151.8 339.9,148.1"/>
<polyline points="343.0,150.6 344.9,152.4"/>
</g>
<rect x="255" y="171.8" width="17.3" height="13.5" fill="#fff"/>
<text transform="translate(255.80,184.80) scale(0.939,1)" font-size="14.78" class="cl">50</text>
<rect x="393.1" y="210" width="17" height="14.3" fill="#fff"/>
<text transform="translate(393.80,222.80) scale(0.951,1)" font-size="14.78" class="cl">50</text>
<line x1="235.1" y1="124.5" x2="235.1" y2="185.2" stroke="#ff0000" stroke-width="3.0" stroke-linecap="round"/>
<line x1="280.7" y1="93.3" x2="280.7" y2="200.5" stroke="#0000cd" stroke-width="3.0" stroke-linecap="round"/>
<path d="M44.85,15 V367.6 M630,15 V367.6" fill="none" stroke="#000" stroke-width="1.7"/>
<path d="M44,15.7 H630.85" fill="none" stroke="#000" stroke-width="1.6"/>
<path d="M44,367.0 H630.85" fill="none" stroke="#111" stroke-width="1.45"/>
<line x1="39.800000000000004" y1="15.60" x2="44.6" y2="15.60" stroke="#000" stroke-width="1.3"/>
<text transform="translate(9.70,21.20) scale(0.898,1)" font-size="15.65" class="ax">90N</text>
<line x1="39.800000000000004" y1="74.15" x2="44.6" y2="74.15" stroke="#000" stroke-width="1.3"/>
<text transform="translate(9.90,79.75) scale(0.891,1)" font-size="15.65" class="ax">60N</text>
<line x1="39.800000000000004" y1="132.70" x2="44.6" y2="132.70" stroke="#000" stroke-width="1.3"/>
<text transform="translate(9.95,138.30) scale(0.890,1)" font-size="15.65" class="ax">30N</text>
<line x1="39.800000000000004" y1="191.25" x2="44.6" y2="191.25" stroke="#000" stroke-width="1.3"/>
<text transform="translate(18.45,196.85) scale(0.754,1)" font-size="15.65" class="ax">EQ</text>
<line x1="39.800000000000004" y1="249.80" x2="44.6" y2="249.80" stroke="#000" stroke-width="1.3"/>
<text transform="translate(10.70,255.40) scale(0.890,1)" font-size="15.65" class="ax">30S</text>
<line x1="39.800000000000004" y1="308.35" x2="44.6" y2="308.35" stroke="#000" stroke-width="1.3"/>
<text transform="translate(10.70,313.95) scale(0.890,1)" font-size="15.65" class="ax">60S</text>
<line x1="39.800000000000004" y1="366.90" x2="44.6" y2="366.90" stroke="#000" stroke-width="1.3"/>
<text transform="translate(10.70,372.50) scale(0.890,1)" font-size="15.65" class="ax">90S</text>
<line x1="109.64" y1="366.9" x2="109.64" y2="371.7" stroke="#000" stroke-width="1.3"/>
<text transform="translate(97.70,385.60) scale(0.866,1)" font-size="15.80" class="ax">60E</text>
<line x1="207.21" y1="366.9" x2="207.21" y2="371.7" stroke="#000" stroke-width="1.3"/>
<text transform="translate(191.45,385.60) scale(0.897,1)" font-size="15.80" class="ax">120E</text>
<line x1="304.78" y1="366.9" x2="304.78" y2="371.7" stroke="#000" stroke-width="1.3"/>
<text transform="translate(293.45,385.60) scale(0.895,1)" font-size="15.80" class="ax">180</text>
<line x1="402.34" y1="366.9" x2="402.34" y2="371.7" stroke="#000" stroke-width="1.3"/>
<text transform="translate(385.95,385.60) scale(0.844,1)" font-size="15.80" class="ax">120W</text>
<line x1="499.91" y1="366.9" x2="499.91" y2="371.7" stroke="#000" stroke-width="1.3"/>
<text transform="translate(486.70,385.60) scale(0.827,1)" font-size="15.80" class="ax">60W</text>
<line x1="597.48" y1="366.9" x2="597.48" y2="371.7" stroke="#000" stroke-width="1.3"/>
<text transform="translate(593.95,385.60) scale(0.838,1)" font-size="15.80" class="ax">0</text>
<polygon points="121.70,408.1 169.50,400.0 169.50,416.2" fill="#0000cd" stroke="#000" stroke-width="1" stroke-linejoin="round"/>
<rect x="169.50" y="400.0" width="47.8" height="16.19999999999999" fill="#007dff" stroke="#000" stroke-width="1"/>
<rect x="217.30" y="400.0" width="47.8" height="16.19999999999999" fill="#00e1ff" stroke="#000" stroke-width="1"/>
<rect x="265.10" y="400.0" width="47.8" height="16.19999999999999" fill="#32ff00" stroke="#000" stroke-width="1"/>
<rect x="312.90" y="400.0" width="47.8" height="16.19999999999999" fill="#a0ff78" stroke="#000" stroke-width="1"/>
<rect x="360.70" y="400.0" width="47.8" height="16.19999999999999" fill="#ffffa0" stroke="#000" stroke-width="1"/>
<rect x="408.50" y="400.0" width="47.8" height="16.19999999999999" fill="#ffd232" stroke="#000" stroke-width="1"/>
<rect x="456.30" y="400.0" width="47.8" height="16.19999999999999" fill="#ff8240" stroke="#000" stroke-width="1"/>
<polygon points="551.90,408.1 504.10,400.0 504.10,416.2" fill="#ffffff" stroke="#000" stroke-width="1" stroke-linejoin="round"/>
<text transform="translate(165.60,432.40) scale(1.015,1)" font-size="15.80" class="cb">5</text>
<text transform="translate(210.00,432.40) scale(0.998,1)" font-size="15.80" class="cb">10</text>
<text transform="translate(256.25,432.40) scale(1.041,1)" font-size="15.80" class="cb">20</text>
<text transform="translate(304.00,432.40) scale(1.049,1)" font-size="15.80" class="cb">30</text>
<text transform="translate(351.75,432.40) scale(1.069,1)" font-size="15.80" class="cb">40</text>
<text transform="translate(399.50,432.40) scale(1.069,1)" font-size="15.80" class="cb">50</text>
<text transform="translate(447.50,432.40) scale(1.055,1)" font-size="15.80" class="cb">60</text>
<text transform="translate(495.50,432.40) scale(1.069,1)" font-size="15.80" class="cb">70</text>
</svg>
</body></html>
